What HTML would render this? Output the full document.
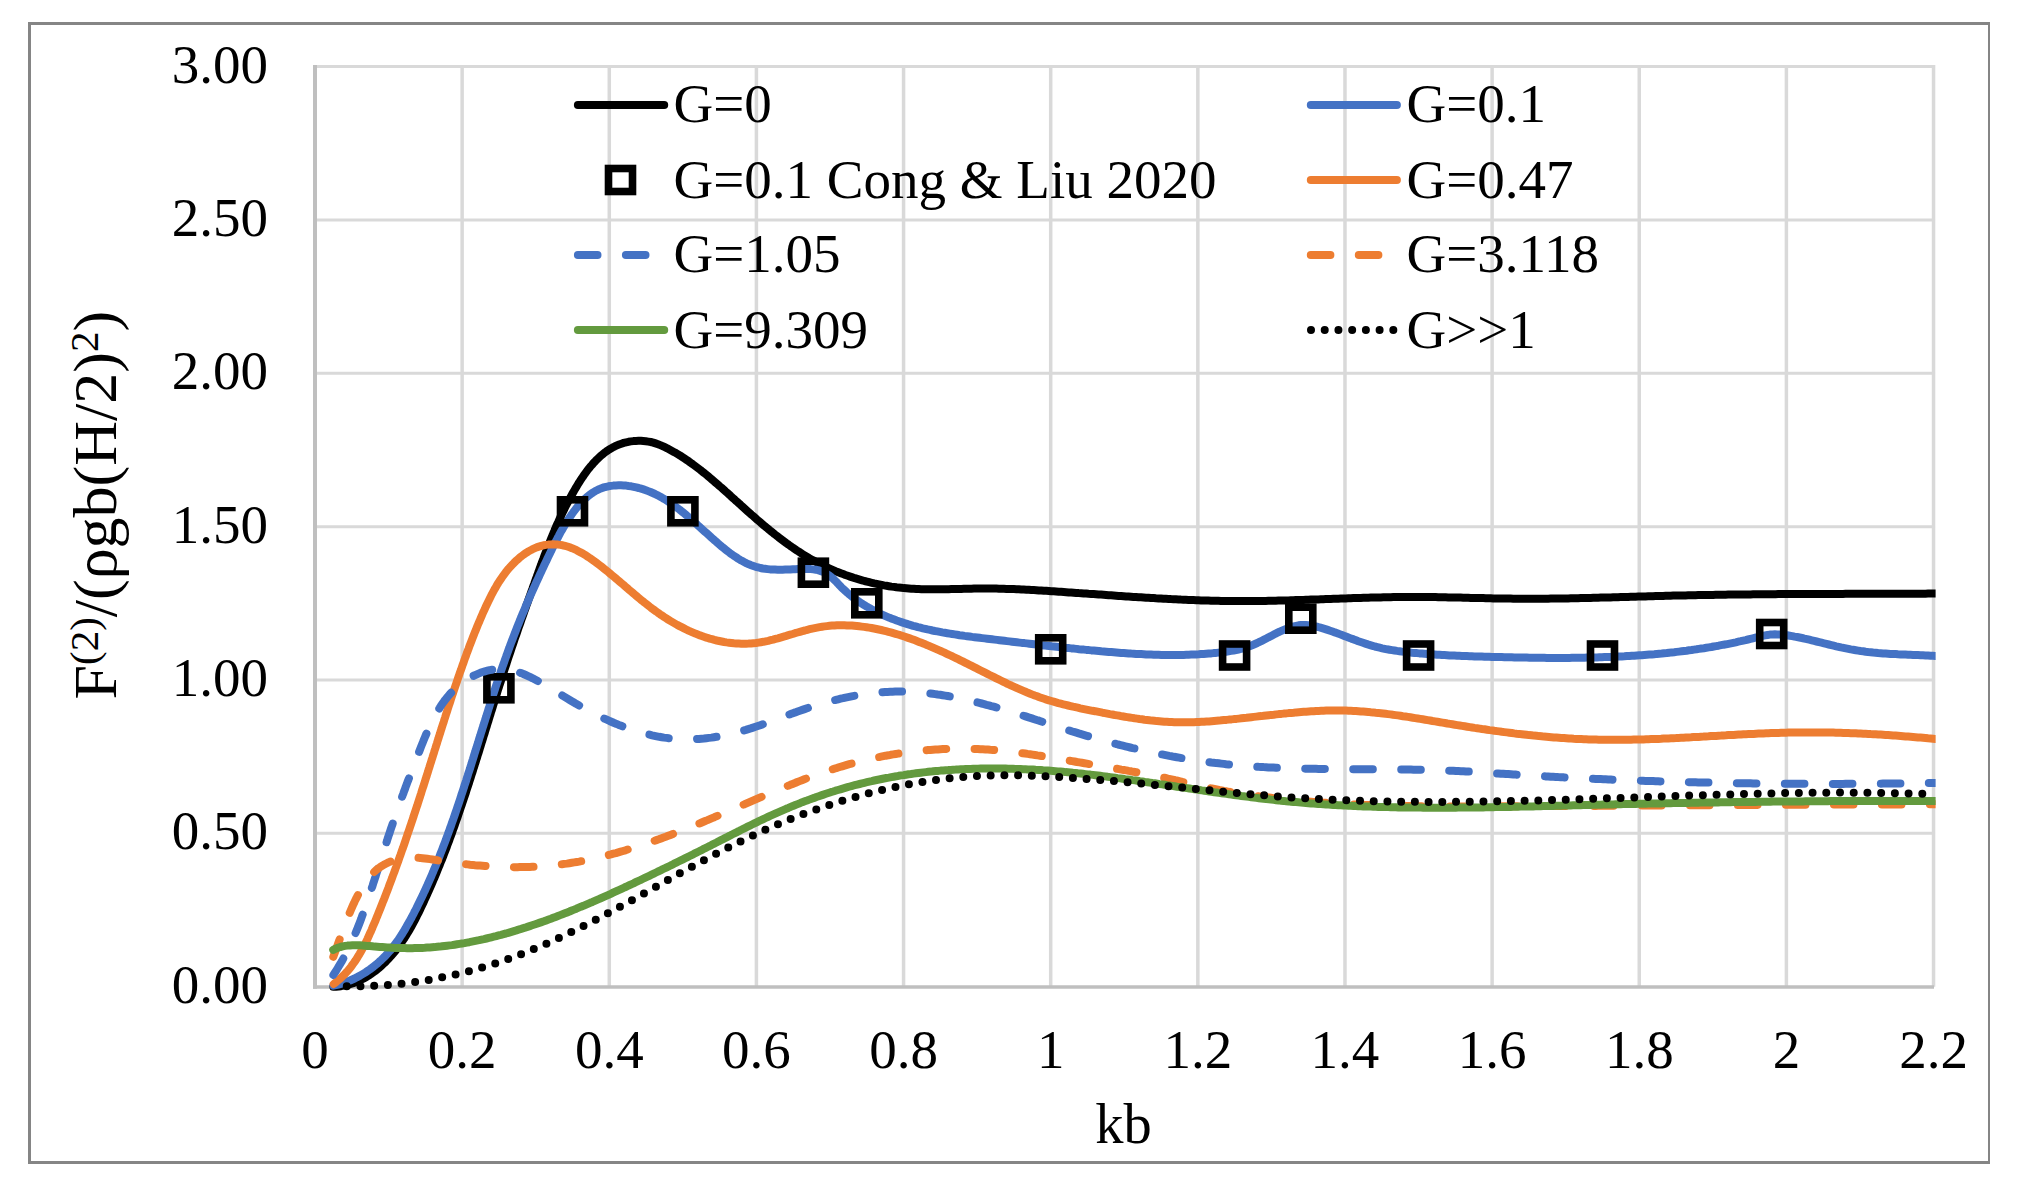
<!DOCTYPE html>
<html><head><meta charset="utf-8"><title>Chart</title>
<style>html,body{margin:0;padding:0;background:#fff;}svg{display:block;}text{font-family:"Liberation Serif",serif;fill:#000;}</style></head><body>
<svg width="2024" height="1185" viewBox="0 0 2024 1185">
<rect x="0" y="0" width="2024" height="1185" fill="#fff"/>
<g fill="#858585">
<rect x="28" y="22" width="1962" height="3"/>
<rect x="28" y="1161" width="1962" height="3"/>
<rect x="28" y="22" width="3" height="1142"/>
<rect x="1988" y="22" width="2" height="1142"/>
</g>
<g stroke="#D9D9D9" fill="none">
<line x1="315" y1="833.35" x2="1935.04" y2="833.35" stroke-width="3"/>
<line x1="315" y1="680.00" x2="1935.04" y2="680.00" stroke-width="3"/>
<line x1="315" y1="526.65" x2="1935.04" y2="526.65" stroke-width="3"/>
<line x1="315" y1="373.30" x2="1935.04" y2="373.30" stroke-width="3"/>
<line x1="315" y1="219.95" x2="1935.04" y2="219.95" stroke-width="3"/>
<line x1="315" y1="66.60" x2="1935.04" y2="66.60" stroke-width="3"/>
<line x1="462.14" y1="65.10" x2="462.14" y2="986.70" stroke-width="3.5"/>
<line x1="609.28" y1="65.10" x2="609.28" y2="986.70" stroke-width="3.5"/>
<line x1="756.42" y1="65.10" x2="756.42" y2="986.70" stroke-width="3.5"/>
<line x1="903.56" y1="65.10" x2="903.56" y2="986.70" stroke-width="3.5"/>
<line x1="1050.70" y1="65.10" x2="1050.70" y2="986.70" stroke-width="3.5"/>
<line x1="1197.84" y1="65.10" x2="1197.84" y2="986.70" stroke-width="3.5"/>
<line x1="1344.98" y1="65.10" x2="1344.98" y2="986.70" stroke-width="3.5"/>
<line x1="1492.12" y1="65.10" x2="1492.12" y2="986.70" stroke-width="3.5"/>
<line x1="1639.26" y1="65.10" x2="1639.26" y2="986.70" stroke-width="3.5"/>
<line x1="1786.40" y1="65.10" x2="1786.40" y2="986.70" stroke-width="3.5"/>
<line x1="1933.54" y1="65.10" x2="1933.54" y2="986.70" stroke-width="3.5"/>
</g>
<g stroke="#BFBFBF" fill="none">
<line x1="315" y1="65.10" x2="315" y2="988.70" stroke-width="4"/>
<line x1="313" y1="987.00" x2="1934.04" y2="987.00" stroke-width="3.5"/>
</g>
<g font-size="55" text-anchor="end">
<text x="267.9" y="1002.6">0.00</text>
<text x="267.9" y="849.2">0.50</text>
<text x="267.9" y="695.9">1.00</text>
<text x="267.9" y="542.6">1.50</text>
<text x="267.9" y="389.2">2.00</text>
<text x="267.9" y="235.9">2.50</text>
<text x="267.9" y="82.5">3.00</text>
</g>
<g font-size="55" text-anchor="middle">
<text x="315.00" y="1068.1">0</text>
<text x="462.14" y="1068.1">0.2</text>
<text x="609.28" y="1068.1">0.4</text>
<text x="756.42" y="1068.1">0.6</text>
<text x="903.56" y="1068.1">0.8</text>
<text x="1050.70" y="1068.1">1</text>
<text x="1197.84" y="1068.1">1.2</text>
<text x="1344.98" y="1068.1">1.4</text>
<text x="1492.12" y="1068.1">1.6</text>
<text x="1639.26" y="1068.1">1.8</text>
<text x="1786.40" y="1068.1">2</text>
<text x="1933.54" y="1068.1">2.2</text>
</g>
<text x="1123.5" y="1142.6" font-size="56.5" text-anchor="middle">kb</text>
<text transform="translate(115.7,699.5) rotate(-90)" font-size="62">F<tspan font-size="41" dy="-17.7">(2)</tspan><tspan dy="17.7">/(ρgb(H/2)</tspan><tspan font-size="41" dy="-17.7">2</tspan><tspan dy="17.7">)</tspan></text>
<g clip-path="url(#clip)">
<clipPath id="clip"><rect x="300" y="40" width="1635.6" height="960"/></clipPath>
<path d="M333.4 986.8L335.9 986.7L338.5 986.5L341.0 986.2L343.5 985.7L345.9 985.2L348.3 984.6L350.7 983.9L353.1 983.2L355.4 982.3L357.7 981.4L359.9 980.3L362.2 979.2L364.3 978.1L366.5 976.9L368.6 975.6L370.7 974.2L372.7 972.8L374.8 971.3L376.7 969.8L378.7 968.2L380.6 966.5L382.4 964.8L384.3 963.1L386.1 961.3L387.8 959.5L389.5 957.7L391.2 955.8L392.9 953.9L394.5 952.0L396.0 950.0L397.5 948.0L399.0 946.0L400.5 944.0L401.9 941.9L403.3 939.8L404.7 937.7L406.0 935.6L407.3 933.5L408.6 931.4L409.9 929.2L411.1 927.0L412.3 924.8L413.5 922.6L414.7 920.4L415.8 918.2L416.9 915.9L418.1 913.7L419.2 911.4L420.3 909.2L421.3 906.9L422.4 904.7L423.5 902.4L424.5 900.1L425.6 897.8L426.6 895.6L427.6 893.3L428.7 891.0L429.7 888.7L430.7 886.4L431.7 884.1L432.7 881.9L433.6 879.6L434.6 877.3L435.6 875.0L436.5 872.7L437.5 870.3L438.4 868.0L439.4 865.7L440.3 863.4L441.2 861.1L442.2 858.8L443.1 856.5L444.0 854.1L444.9 851.8L445.8 849.5L446.7 847.2L447.5 844.8L448.4 842.5L449.3 840.2L450.1 837.8L451.0 835.5L451.9 833.1L452.7 830.8L453.5 828.5L454.4 826.1L455.2 823.8L456.0 821.4L456.9 819.1L457.7 816.7L458.5 814.3L459.3 812.0L460.1 809.6L460.9 807.3L461.7 804.9L462.5 802.5L463.3 800.2L464.1 797.8L464.9 795.4L465.7 793.1L466.4 790.7L467.2 788.3L468.0 786.0L468.8 783.6L469.5 781.2L470.3 778.8L471.0 776.5L471.8 774.1L472.6 771.7L473.3 769.3L474.1 767.0L474.8 764.6L475.6 762.2L476.3 759.8L477.1 757.4L477.8 755.0L478.6 752.7L479.3 750.3L480.0 747.9L480.8 745.5L481.5 743.1L482.3 740.7L483.0 738.3L483.7 735.9L484.5 733.6L485.2 731.2L485.9 728.8L486.7 726.4L487.4 724.0L488.2 721.6L488.9 719.2L489.6 716.8L490.4 714.4L491.1 712.0L491.9 709.7L492.6 707.3L493.3 704.9L494.1 702.5L494.8 700.1L495.6 697.7L496.3 695.3L497.1 692.9L497.8 690.5L498.6 688.1L499.3 685.8L500.1 683.4L500.9 681.0L501.6 678.6L502.4 676.2L503.2 673.8L503.9 671.4L504.7 669.0L505.5 666.7L506.3 664.3L507.0 661.9L507.8 659.5L508.6 657.1L509.4 654.7L510.2 652.4L511.0 650.0L511.8 647.6L512.6 645.2L513.4 642.9L514.2 640.5L515.0 638.1L515.9 635.7L516.7 633.4L517.5 631.0L518.3 628.6L519.1 626.3L520.0 623.9L520.8 621.5L521.6 619.2L522.5 616.8L523.3 614.4L524.1 612.1L525.0 609.7L525.8 607.4L526.6 605.0L527.5 602.7L528.3 600.3L529.1 598.0L530.0 595.6L530.8 593.3L531.6 590.9L532.5 588.6L533.3 586.2L534.2 583.9L535.0 581.6L535.8 579.2L536.7 576.9L537.5 574.6L538.4 572.3L539.2 569.9L540.0 567.6L540.9 565.3L541.7 563.0L542.6 560.7L543.5 558.3L544.3 556.0L545.2 553.7L546.1 551.4L547.0 549.1L547.9 546.8L548.8 544.5L549.7 542.2L550.6 539.9L551.5 537.6L552.5 535.4L553.4 533.1L554.4 530.8L555.3 528.5L556.3 526.2L557.3 524.0L558.4 521.7L559.4 519.4L560.4 517.1L561.5 514.9L562.6 512.6L563.7 510.4L564.8 508.1L565.9 505.8L567.1 503.6L568.3 501.3L569.5 499.1L570.7 496.8L571.9 494.6L573.2 492.4L574.5 490.1L575.8 487.9L577.1 485.7L578.4 483.5L579.8 481.3L581.2 479.1L582.7 477.0L584.1 474.8L585.6 472.8L587.2 470.7L588.7 468.7L590.3 466.7L592.0 464.8L593.6 462.9L595.4 461.1L597.1 459.3L598.9 457.6L600.7 455.9L602.6 454.4L604.5 452.8L606.4 451.4L608.4 450.0L610.5 448.8L612.5 447.6L614.7 446.4L616.9 445.4L619.1 444.5L621.4 443.7L623.7 442.9L626.1 442.3L628.5 441.8L630.9 441.4L633.4 441.1L635.9 440.9L638.4 440.8L640.9 440.8L643.3 441.0L645.8 441.2L648.3 441.6L650.8 442.0L653.2 442.6L655.6 443.4L658.0 444.2L660.3 445.1L662.6 446.1L664.9 447.2L667.2 448.3L669.4 449.5L671.6 450.7L673.8 451.9L676.0 453.1L678.1 454.4L680.3 455.7L682.4 457.1L684.4 458.4L686.5 459.8L688.6 461.2L690.6 462.7L692.6 464.1L694.6 465.6L696.6 467.1L698.6 468.6L700.6 470.1L702.5 471.7L704.5 473.2L706.4 474.8L708.3 476.4L710.2 478.0L712.1 479.6L714.0 481.2L715.9 482.9L717.8 484.5L719.7 486.2L721.6 487.8L723.5 489.5L725.3 491.2L727.2 492.8L729.1 494.5L730.9 496.2L732.8 497.9L734.7 499.6L736.5 501.3L738.4 502.9L740.3 504.6L742.1 506.3L744.0 508.0L745.9 509.7L747.8 511.4L749.6 513.0L751.5 514.7L753.4 516.3L755.3 518.0L757.2 519.7L759.1 521.3L761.0 522.9L762.9 524.6L764.8 526.2L766.8 527.8L768.7 529.4L770.6 531.0L772.6 532.5L774.5 534.1L776.5 535.6L778.5 537.2L780.5 538.7L782.5 540.2L784.5 541.7L786.5 543.2L788.5 544.6L790.5 546.1L792.6 547.5L794.6 548.9L796.7 550.3L798.8 551.6L800.8 553.0L802.9 554.3L805.1 555.6L807.2 556.9L809.3 558.2L811.5 559.4L813.7 560.6L815.8 561.8L818.0 562.9L820.3 564.1L822.5 565.2L824.7 566.3L827.0 567.4L829.2 568.4L831.5 569.4L833.8 570.4L836.1 571.4L838.4 572.3L840.7 573.2L843.1 574.1L845.4 575.0L847.8 575.8L850.1 576.6L852.5 577.4L854.9 578.2L857.3 578.9L859.7 579.6L862.1 580.3L864.5 581.0L866.9 581.6L869.3 582.2L871.8 582.8L874.2 583.4L876.6 583.9L879.1 584.4L881.6 584.9L884.0 585.4L886.5 585.8L888.9 586.2L891.4 586.6L893.9 586.9L896.4 587.3L898.9 587.6L901.3 587.8L903.8 588.1L906.3 588.3L908.8 588.5L911.3 588.7L913.8 588.8L916.3 589.0L918.8 589.1L921.3 589.2L923.8 589.2L926.3 589.3L928.8 589.3L931.3 589.3L933.8 589.3L936.3 589.3L938.8 589.3L941.3 589.3L943.8 589.3L946.3 589.2L948.8 589.2L951.3 589.1L953.8 589.1L956.3 589.0L958.8 588.9L961.3 588.9L963.8 588.8L966.3 588.8L968.9 588.7L971.4 588.7L973.9 588.6L976.4 588.6L978.9 588.6L981.4 588.5L983.9 588.5L986.4 588.5L988.9 588.5L991.4 588.6L993.9 588.6L996.4 588.6L998.9 588.7L1001.4 588.7L1003.9 588.8L1006.4 588.9L1008.9 588.9L1011.4 589.0L1013.9 589.1L1016.4 589.2L1018.8 589.3L1021.3 589.5L1023.8 589.6L1026.3 589.7L1028.8 589.8L1031.3 590.0L1033.8 590.1L1036.3 590.2L1038.8 590.4L1041.3 590.5L1043.8 590.7L1046.3 590.8L1048.8 591.0L1051.3 591.2L1053.7 591.3L1056.2 591.5L1058.7 591.7L1061.2 591.8L1063.7 592.0L1066.2 592.2L1068.7 592.4L1071.2 592.5L1073.7 592.7L1076.2 592.9L1078.7 593.1L1081.2 593.2L1083.7 593.4L1086.2 593.6L1088.6 593.8L1091.1 593.9L1093.6 594.1L1096.1 594.3L1098.6 594.5L1101.1 594.6L1103.6 594.8L1106.1 595.0L1108.6 595.2L1111.1 595.3L1113.6 595.5L1116.1 595.7L1118.6 595.9L1121.1 596.0L1123.6 596.2L1126.1 596.4L1128.5 596.5L1131.0 596.7L1133.5 596.9L1136.0 597.0L1138.5 597.2L1141.0 597.3L1143.5 597.5L1146.0 597.7L1148.5 597.8L1151.0 598.0L1153.5 598.1L1156.0 598.3L1158.5 598.4L1161.0 598.5L1163.5 598.7L1166.0 598.8L1168.5 598.9L1171.0 599.1L1173.5 599.2L1176.0 599.3L1178.5 599.4L1180.9 599.6L1183.4 599.7L1185.9 599.8L1188.4 599.9L1190.9 600.0L1193.4 600.1L1195.9 600.2L1198.4 600.3L1200.9 600.4L1203.4 600.4L1205.9 600.5L1208.4 600.6L1210.9 600.7L1213.4 600.7L1215.9 600.8L1218.4 600.8L1220.9 600.9L1223.4 600.9L1225.9 601.0L1228.4 601.0L1230.9 601.0L1233.4 601.0L1235.9 601.1L1238.4 601.1L1240.9 601.1L1243.4 601.1L1245.9 601.1L1248.4 601.1L1250.9 601.1L1253.4 601.0L1255.9 601.0L1258.4 601.0L1260.8 600.9L1263.3 600.9L1265.8 600.9L1268.3 600.8L1270.8 600.8L1273.3 600.7L1275.8 600.7L1278.3 600.6L1280.8 600.6L1283.3 600.5L1285.8 600.4L1288.3 600.4L1290.8 600.3L1293.3 600.2L1295.8 600.1L1298.3 600.1L1300.8 600.0L1303.3 599.9L1305.8 599.8L1308.3 599.7L1310.8 599.6L1313.3 599.6L1315.8 599.5L1318.3 599.4L1320.8 599.3L1323.3 599.2L1325.8 599.1L1328.3 599.0L1330.8 598.9L1333.3 598.8L1335.8 598.7L1338.3 598.7L1340.8 598.6L1343.3 598.5L1345.8 598.4L1348.3 598.3L1350.8 598.2L1353.3 598.1L1355.8 598.1L1358.3 598.0L1360.8 597.9L1363.3 597.8L1365.8 597.8L1368.3 597.7L1370.8 597.6L1373.3 597.6L1375.8 597.5L1378.3 597.4L1380.8 597.4L1383.3 597.3L1385.8 597.3L1388.3 597.2L1390.8 597.2L1393.3 597.1L1395.8 597.1L1398.3 597.1L1400.8 597.0L1403.3 597.0L1405.8 597.0L1408.3 597.0L1410.8 597.0L1413.3 597.0L1415.8 597.0L1418.3 597.0L1420.8 597.0L1423.2 597.0L1425.7 597.0L1428.2 597.0L1430.7 597.1L1433.2 597.1L1435.7 597.1L1438.2 597.2L1440.7 597.2L1443.2 597.3L1445.7 597.3L1448.2 597.4L1450.7 597.4L1453.2 597.5L1455.7 597.5L1458.2 597.6L1460.7 597.6L1463.2 597.7L1465.7 597.7L1468.2 597.8L1470.7 597.9L1473.2 597.9L1475.7 598.0L1478.2 598.0L1480.7 598.1L1483.2 598.1L1485.7 598.2L1488.2 598.3L1490.7 598.3L1493.2 598.4L1495.7 598.4L1498.2 598.5L1500.7 598.5L1503.2 598.5L1505.7 598.6L1508.2 598.6L1510.7 598.6L1513.2 598.7L1515.7 598.7L1518.2 598.7L1520.7 598.7L1523.2 598.7L1525.7 598.8L1528.2 598.8L1530.7 598.8L1533.2 598.8L1535.7 598.7L1538.2 598.7L1540.7 598.7L1543.2 598.7L1545.7 598.7L1548.2 598.7L1550.7 598.6L1553.2 598.6L1555.7 598.6L1558.2 598.5L1560.7 598.5L1563.2 598.5L1565.7 598.4L1568.2 598.4L1570.7 598.3L1573.2 598.3L1575.7 598.2L1578.2 598.2L1580.7 598.1L1583.2 598.1L1585.7 598.0L1588.2 598.0L1590.7 597.9L1593.2 597.8L1595.7 597.8L1598.2 597.7L1600.7 597.6L1603.2 597.6L1605.7 597.5L1608.2 597.4L1610.7 597.4L1613.1 597.3L1615.6 597.2L1618.1 597.2L1620.6 597.1L1623.1 597.0L1625.6 596.9L1628.1 596.9L1630.6 596.8L1633.1 596.7L1635.6 596.7L1638.1 596.6L1640.6 596.5L1643.1 596.4L1645.6 596.4L1648.1 596.3L1650.6 596.2L1653.1 596.2L1655.6 596.1L1658.1 596.0L1660.6 596.0L1663.1 595.9L1665.6 595.8L1668.1 595.8L1670.6 595.7L1673.1 595.6L1675.6 595.6L1678.1 595.5L1680.6 595.5L1683.1 595.4L1685.6 595.4L1688.1 595.3L1690.6 595.3L1693.1 595.2L1695.6 595.2L1698.1 595.1L1700.6 595.1L1703.1 595.0L1705.6 595.0L1708.1 594.9L1710.6 594.9L1713.1 594.9L1715.6 594.8L1718.1 594.8L1720.6 594.7L1723.1 594.7L1725.6 594.7L1728.1 594.6L1730.6 594.6L1733.1 594.6L1735.6 594.5L1738.1 594.5L1740.6 594.5L1743.1 594.5L1745.6 594.4L1748.1 594.4L1750.6 594.4L1753.1 594.3L1755.6 594.3L1758.1 594.3L1760.6 594.3L1763.1 594.3L1765.6 594.2L1768.1 594.2L1770.6 594.2L1773.1 594.2L1775.6 594.2L1778.1 594.1L1780.6 594.1L1783.1 594.1L1785.6 594.1L1788.1 594.1L1790.6 594.1L1793.1 594.0L1795.5 594.0L1798.0 594.0L1800.5 594.0L1803.0 594.0L1805.5 594.0L1808.0 594.0L1810.5 594.0L1813.0 593.9L1815.5 593.9L1818.0 593.9L1820.5 593.9L1823.0 593.9L1825.5 593.9L1828.0 593.9L1830.5 593.9L1833.0 593.9L1835.5 593.9L1838.0 593.9L1840.5 593.9L1843.0 593.9L1845.5 593.8L1848.0 593.8L1850.5 593.8L1853.0 593.8L1855.5 593.8L1858.0 593.8L1860.5 593.8L1863.0 593.8L1865.5 593.8L1868.0 593.8L1870.5 593.8L1873.0 593.8L1875.5 593.8L1878.0 593.8L1880.5 593.8L1883.0 593.8L1885.5 593.8L1888.0 593.8L1890.5 593.7L1893.0 593.7L1895.5 593.7L1898.0 593.7L1900.5 593.7L1903.0 593.7L1905.5 593.7L1908.0 593.7L1910.5 593.7L1913.0 593.7L1915.5 593.7L1918.0 593.7L1920.5 593.7L1923.0 593.7L1925.5 593.7L1928.0 593.6L1930.5 593.6L1933.0 593.6L1935.5 593.6" stroke="#000" fill="none" stroke-width="8.00" stroke-linejoin="round" stroke-linecap="round"/>
<path d="M333.5 985.7L335.9 985.2L338.3 984.6L340.7 983.9L343.0 983.1L345.4 982.3L347.7 981.4L350.0 980.5L352.3 979.5L354.6 978.5L356.8 977.3L359.0 976.2L361.2 974.9L363.4 973.6L365.5 972.3L367.6 970.9L369.7 969.5L371.7 968.0L373.7 966.5L375.6 964.9L377.6 963.3L379.4 961.6L381.3 959.9L383.1 958.2L384.9 956.4L386.6 954.6L388.3 952.7L389.9 950.9L391.5 948.9L393.0 947.0L394.5 945.0L396.0 943.0L397.5 941.0L398.9 939.0L400.2 936.9L401.6 934.8L402.9 932.7L404.2 930.6L405.5 928.4L406.7 926.2L407.9 924.1L409.2 921.9L410.4 919.7L411.6 917.5L412.7 915.3L413.9 913.1L415.0 910.8L416.2 908.6L417.3 906.4L418.4 904.1L419.5 901.9L420.6 899.6L421.7 897.4L422.8 895.1L423.8 892.8L424.9 890.6L425.9 888.3L427.0 886.0L428.0 883.7L429.0 881.4L430.0 879.1L431.0 876.8L432.0 874.5L433.0 872.2L433.9 869.9L434.9 867.6L435.9 865.3L436.8 863.0L437.7 860.7L438.7 858.4L439.6 856.1L440.5 853.7L441.4 851.4L442.3 849.1L443.2 846.7L444.1 844.4L445.0 842.1L445.9 839.7L446.7 837.4L447.6 835.1L448.4 832.7L449.3 830.4L450.1 828.0L451.0 825.7L451.8 823.3L452.6 821.0L453.5 818.6L454.3 816.2L455.1 813.9L455.9 811.5L456.7 809.2L457.5 806.8L458.3 804.4L459.1 802.1L459.9 799.7L460.7 797.3L461.4 794.9L462.2 792.6L463.0 790.2L463.8 787.8L464.5 785.4L465.3 783.1L466.1 780.7L466.8 778.3L467.6 775.9L468.3 773.5L469.1 771.2L469.9 768.8L470.6 766.4L471.4 764.0L472.1 761.6L472.9 759.2L473.6 756.8L474.3 754.5L475.1 752.1L475.8 749.7L476.6 747.3L477.3 744.9L478.1 742.5L478.8 740.1L479.5 737.7L480.3 735.4L481.0 733.0L481.8 730.6L482.5 728.2L483.3 725.8L484.0 723.4L484.8 721.0L485.5 718.7L486.3 716.3L487.0 713.9L487.8 711.5L488.5 709.1L489.3 706.7L490.0 704.3L490.8 702.0L491.6 699.6L492.3 697.2L493.1 694.8L493.9 692.5L494.7 690.1L495.4 687.7L496.2 685.3L497.0 683.0L497.8 680.6L498.6 678.2L499.4 675.8L500.2 673.5L501.0 671.1L501.8 668.7L502.6 666.4L503.5 664.0L504.3 661.7L505.1 659.3L506.0 656.9L506.8 654.6L507.7 652.2L508.5 649.9L509.4 647.5L510.2 645.2L511.1 642.9L512.0 640.5L512.9 638.2L513.8 635.8L514.7 633.5L515.6 631.2L516.5 628.8L517.4 626.5L518.4 624.2L519.3 621.9L520.2 619.5L521.2 617.2L522.1 614.9L523.1 612.6L524.1 610.3L525.1 608.0L526.0 605.7L527.0 603.4L528.0 601.1L529.0 598.8L530.0 596.5L531.0 594.2L532.0 591.9L533.1 589.6L534.1 587.4L535.1 585.1L536.1 582.8L537.2 580.5L538.2 578.3L539.3 576.0L540.3 573.7L541.4 571.5L542.4 569.2L543.5 567.0L544.5 564.7L545.6 562.5L546.7 560.2L547.7 558.0L548.8 555.8L549.9 553.5L551.0 551.3L552.0 549.1L553.1 546.8L554.2 544.6L555.3 542.4L556.5 540.2L557.6 538.0L558.8 535.8L559.9 533.6L561.1 531.4L562.4 529.3L563.6 527.1L564.9 524.9L566.2 522.8L567.6 520.6L568.9 518.5L570.4 516.4L571.8 514.3L573.3 512.2L574.9 510.1L576.4 508.1L578.1 506.1L579.7 504.2L581.5 502.3L583.2 500.5L585.0 498.7L586.9 497.1L588.8 495.5L590.8 494.0L592.8 492.6L594.9 491.3L597.0 490.2L599.2 489.1L601.5 488.2L603.8 487.4L606.1 486.8L608.5 486.3L611.0 485.9L613.4 485.6L615.9 485.4L618.5 485.3L621.0 485.3L623.6 485.4L626.1 485.6L628.6 486.0L631.2 486.3L633.7 486.8L636.2 487.4L638.7 488.0L641.1 488.7L643.5 489.4L645.9 490.2L648.2 491.1L650.5 492.0L652.8 493.0L655.0 494.0L657.2 495.1L659.4 496.3L661.5 497.4L663.7 498.7L665.8 499.9L667.8 501.3L669.9 502.6L671.9 504.0L673.9 505.4L675.9 506.9L677.9 508.4L679.9 509.9L681.8 511.5L683.8 513.0L685.7 514.6L687.6 516.2L689.5 517.9L691.4 519.5L693.3 521.2L695.2 522.9L697.1 524.6L698.9 526.3L700.8 528.0L702.7 529.7L704.6 531.4L706.5 533.1L708.4 534.8L710.3 536.5L712.2 538.3L714.1 539.9L716.0 541.6L717.9 543.3L719.9 545.0L721.8 546.6L723.8 548.2L725.8 549.8L727.8 551.4L729.8 552.9L731.9 554.4L733.9 555.9L736.0 557.2L738.1 558.6L740.2 559.9L742.4 561.1L744.5 562.2L746.7 563.3L748.9 564.3L751.2 565.2L753.4 566.0L755.7 566.8L758.1 567.4L760.4 568.0L762.8 568.5L765.2 568.8L767.6 569.1L770.1 569.4L772.6 569.5L775.0 569.6L777.6 569.7L780.1 569.7L782.6 569.7L785.2 569.6L787.7 569.6L790.3 569.5L792.9 569.3L795.4 569.2L798.0 569.1L800.6 569.0L803.2 569.0L805.7 568.9L808.3 569.0L810.8 569.1L813.3 569.4L815.7 569.7L818.0 570.2L820.3 570.9L822.6 571.7L824.7 572.7L826.8 573.9L828.8 575.1L830.7 576.6L832.6 578.2L834.3 579.9L836.1 581.6L837.8 583.4L839.5 585.3L841.2 587.1L843.0 588.8L844.9 590.5L846.7 592.2L848.6 593.8L850.6 595.4L852.5 597.0L854.5 598.5L856.6 600.0L858.6 601.4L860.7 602.8L862.8 604.2L865.0 605.5L867.1 606.8L869.3 608.0L871.5 609.3L873.7 610.4L876.0 611.6L878.2 612.7L880.5 613.8L882.8 614.8L885.0 615.8L887.3 616.8L889.6 617.8L891.9 618.7L894.3 619.6L896.6 620.5L898.9 621.3L901.3 622.1L903.6 622.9L906.0 623.6L908.4 624.4L910.8 625.1L913.1 625.8L915.5 626.4L917.9 627.1L920.4 627.7L922.8 628.3L925.2 628.8L927.6 629.4L930.1 629.9L932.5 630.5L934.9 631.0L937.4 631.4L939.9 631.9L942.3 632.4L944.8 632.8L947.3 633.2L949.7 633.6L952.2 634.0L954.7 634.4L957.2 634.8L959.6 635.2L962.1 635.5L964.6 635.9L967.1 636.2L969.6 636.5L972.1 636.9L974.6 637.2L977.1 637.5L979.6 637.8L982.1 638.1L984.6 638.4L987.1 638.7L989.6 639.0L992.1 639.3L994.6 639.6L997.1 639.9L999.5 640.2L1002.0 640.5L1004.5 640.8L1007.0 641.1L1009.5 641.4L1012.0 641.7L1014.5 642.0L1017.0 642.3L1019.5 642.6L1021.9 642.9L1024.4 643.1L1026.9 643.4L1029.4 643.7L1031.9 644.0L1034.3 644.3L1036.8 644.6L1039.3 644.9L1041.8 645.2L1044.3 645.4L1046.7 645.7L1049.2 646.0L1051.7 646.3L1054.2 646.5L1056.7 646.8L1059.1 647.1L1061.6 647.3L1064.1 647.6L1066.6 647.9L1069.1 648.1L1071.5 648.4L1074.0 648.6L1076.5 648.9L1079.0 649.2L1081.5 649.4L1083.9 649.6L1086.4 649.9L1088.9 650.1L1091.4 650.4L1093.9 650.6L1096.3 650.8L1098.8 651.0L1101.3 651.3L1103.8 651.5L1106.3 651.7L1108.8 651.9L1111.3 652.1L1113.8 652.3L1116.2 652.5L1118.7 652.7L1121.2 652.9L1123.7 653.0L1126.2 653.2L1128.7 653.4L1131.2 653.6L1133.7 653.7L1136.2 653.9L1138.7 654.0L1141.2 654.1L1143.7 654.2L1146.2 654.4L1148.7 654.5L1151.2 654.6L1153.7 654.7L1156.2 654.7L1158.7 654.8L1161.2 654.9L1163.7 654.9L1166.2 654.9L1168.7 655.0L1171.2 655.0L1173.7 655.0L1176.2 655.0L1178.7 655.0L1181.2 654.9L1183.7 654.9L1186.2 654.8L1188.7 654.7L1191.2 654.6L1193.7 654.5L1196.2 654.4L1198.7 654.3L1201.2 654.1L1203.7 654.0L1206.2 653.8L1208.7 653.6L1211.2 653.4L1213.7 653.1L1216.2 652.9L1218.7 652.6L1221.1 652.3L1223.6 652.0L1226.1 651.7L1228.6 651.3L1231.1 650.9L1233.6 650.5L1236.0 650.0L1238.4 649.5L1240.9 648.9L1243.3 648.3L1245.7 647.6L1248.0 646.8L1250.4 645.9L1252.7 645.0L1255.0 644.0L1257.3 643.0L1259.5 641.9L1261.8 640.8L1264.0 639.7L1266.3 638.5L1268.5 637.3L1270.8 636.2L1273.0 635.0L1275.2 633.8L1277.5 632.7L1279.7 631.6L1282.0 630.6L1284.3 629.6L1286.6 628.7L1288.9 627.8L1291.3 627.0L1293.7 626.3L1296.1 625.8L1298.5 625.3L1300.9 625.1L1303.3 624.9L1305.8 625.0L1308.2 625.2L1310.7 625.5L1313.1 625.9L1315.6 626.4L1318.0 627.0L1320.5 627.7L1322.9 628.4L1325.3 629.1L1327.7 629.9L1330.1 630.7L1332.5 631.5L1334.9 632.4L1337.3 633.2L1339.6 634.1L1342.0 635.0L1344.3 635.9L1346.6 636.8L1349.0 637.7L1351.3 638.6L1353.7 639.4L1356.0 640.3L1358.3 641.2L1360.7 642.0L1363.0 642.8L1365.4 643.6L1367.8 644.4L1370.1 645.1L1372.5 645.8L1374.9 646.5L1377.3 647.1L1379.7 647.7L1382.2 648.3L1384.6 648.8L1387.1 649.3L1389.5 649.7L1392.0 650.1L1394.5 650.5L1397.0 650.9L1399.5 651.2L1402.0 651.6L1404.5 651.9L1407.0 652.1L1409.5 652.4L1412.0 652.7L1414.5 652.9L1417.0 653.1L1419.5 653.4L1422.0 653.6L1424.5 653.8L1427.0 654.0L1429.5 654.1L1432.0 654.3L1434.5 654.5L1437.0 654.7L1439.5 654.8L1442.0 655.0L1444.5 655.1L1447.0 655.2L1449.5 655.4L1452.0 655.5L1454.5 655.6L1456.9 655.7L1459.4 655.8L1461.9 655.9L1464.4 656.0L1466.9 656.1L1469.4 656.2L1471.9 656.3L1474.4 656.4L1476.9 656.4L1479.4 656.5L1481.9 656.6L1484.4 656.7L1486.9 656.7L1489.3 656.8L1491.8 656.9L1494.3 656.9L1496.8 657.0L1499.3 657.1L1501.8 657.1L1504.3 657.2L1506.8 657.2L1509.3 657.3L1511.8 657.3L1514.3 657.4L1516.8 657.4L1519.3 657.5L1521.8 657.5L1524.3 657.6L1526.8 657.6L1529.3 657.7L1531.8 657.7L1534.3 657.7L1536.8 657.8L1539.3 657.8L1541.8 657.8L1544.3 657.8L1546.8 657.9L1549.3 657.9L1551.8 657.9L1554.3 657.9L1556.8 657.9L1559.3 657.9L1561.8 657.9L1564.3 657.9L1566.9 657.9L1569.4 657.9L1571.9 657.8L1574.4 657.8L1576.9 657.8L1579.4 657.7L1581.9 657.7L1584.4 657.7L1586.9 657.6L1589.4 657.6L1591.9 657.5L1594.4 657.4L1596.9 657.4L1599.4 657.3L1601.9 657.2L1604.4 657.1L1606.9 657.1L1609.4 657.0L1611.9 656.9L1614.4 656.7L1616.9 656.6L1619.4 656.5L1621.9 656.4L1624.4 656.3L1626.9 656.1L1629.4 656.0L1631.8 655.8L1634.3 655.7L1636.8 655.5L1639.3 655.3L1641.8 655.2L1644.3 655.0L1646.8 654.8L1649.3 654.6L1651.8 654.4L1654.3 654.2L1656.8 653.9L1659.2 653.7L1661.7 653.5L1664.2 653.2L1666.7 653.0L1669.2 652.7L1671.7 652.4L1674.2 652.2L1676.6 651.9L1679.1 651.6L1681.6 651.3L1684.1 651.0L1686.6 650.7L1689.0 650.3L1691.5 650.0L1694.0 649.6L1696.5 649.3L1698.9 648.9L1701.4 648.5L1703.9 648.2L1706.3 647.8L1708.8 647.4L1711.3 647.0L1713.7 646.5L1716.2 646.1L1718.6 645.7L1721.1 645.2L1723.6 644.7L1726.0 644.3L1728.5 643.8L1730.9 643.3L1733.4 642.8L1735.8 642.3L1738.3 641.7L1740.7 641.2L1743.2 640.6L1745.6 640.1L1748.0 639.5L1750.5 638.9L1752.9 638.3L1755.3 637.7L1757.8 637.1L1760.2 636.5L1762.6 635.9L1765.1 635.4L1767.5 635.0L1769.9 634.6L1772.4 634.4L1774.9 634.3L1777.3 634.4L1779.8 634.5L1782.3 634.7L1784.7 635.0L1787.2 635.3L1789.7 635.7L1792.2 636.1L1794.6 636.6L1797.1 637.0L1799.5 637.5L1802.0 638.0L1804.4 638.6L1806.9 639.1L1809.3 639.7L1811.8 640.3L1814.2 640.9L1816.6 641.5L1819.1 642.1L1821.5 642.7L1824.0 643.3L1826.4 643.9L1828.8 644.5L1831.3 645.1L1833.7 645.7L1836.2 646.3L1838.6 646.8L1841.0 647.4L1843.5 647.9L1845.9 648.4L1848.4 648.9L1850.8 649.4L1853.3 649.8L1855.8 650.2L1858.2 650.6L1860.7 651.0L1863.2 651.3L1865.7 651.7L1868.1 652.0L1870.6 652.2L1873.1 652.5L1875.6 652.7L1878.1 653.0L1880.6 653.2L1883.1 653.4L1885.6 653.5L1888.1 653.7L1890.5 653.9L1893.0 654.0L1895.5 654.1L1898.0 654.3L1900.5 654.4L1903.0 654.5L1905.5 654.6L1908.0 654.7L1910.5 654.8L1913.0 654.9L1915.5 655.0L1918.0 655.1L1920.5 655.2L1923.0 655.3L1925.5 655.4L1928.0 655.5L1930.5 655.7L1933.0 655.8L1935.5 655.9" stroke="#4472C4" fill="none" stroke-width="8.00" stroke-linejoin="round" stroke-linecap="round"/>
<rect x="486.9" y="676.8" width="24" height="23" fill="none" stroke="#000" stroke-width="7.6"/>
<rect x="560.5" y="499.8" width="24" height="23" fill="none" stroke="#000" stroke-width="7.6"/>
<rect x="670.9" y="499.8" width="24" height="23" fill="none" stroke="#000" stroke-width="7.6"/>
<rect x="801.4" y="561.2" width="24" height="23" fill="none" stroke="#000" stroke-width="7.6"/>
<rect x="854.8" y="591.8" width="24" height="23" fill="none" stroke="#000" stroke-width="7.6"/>
<rect x="1038.7" y="637.8" width="24" height="23" fill="none" stroke="#000" stroke-width="7.6"/>
<rect x="1222.6" y="644.0" width="24" height="23" fill="none" stroke="#000" stroke-width="7.6"/>
<rect x="1288.8" y="607.2" width="24" height="23" fill="none" stroke="#000" stroke-width="7.6"/>
<rect x="1406.6" y="644.0" width="24" height="23" fill="none" stroke="#000" stroke-width="7.6"/>
<rect x="1590.5" y="644.0" width="24" height="23" fill="none" stroke="#000" stroke-width="7.6"/>
<rect x="1759.7" y="622.5" width="24" height="23" fill="none" stroke="#000" stroke-width="7.6"/>
<path d="M333.7 984.0L335.7 982.4L337.6 980.8L339.5 979.2L341.4 977.5L343.2 975.7L344.9 973.9L346.6 972.1L348.2 970.3L349.7 968.4L351.3 966.4L352.7 964.4L354.2 962.4L355.6 960.4L356.9 958.3L358.2 956.2L359.5 954.1L360.7 952.0L361.9 949.8L363.1 947.6L364.3 945.4L365.4 943.2L366.5 940.9L367.6 938.7L368.6 936.4L369.6 934.1L370.7 931.8L371.7 929.5L372.6 927.2L373.6 924.9L374.6 922.6L375.6 920.3L376.5 917.9L377.5 915.6L378.4 913.3L379.3 911.0L380.3 908.6L381.2 906.3L382.1 904.0L383.0 901.6L384.0 899.3L384.9 897.0L385.8 894.6L386.7 892.3L387.6 890.0L388.5 887.6L389.3 885.3L390.2 883.0L391.1 880.6L392.0 878.3L392.8 875.9L393.7 873.6L394.6 871.3L395.4 868.9L396.3 866.6L397.1 864.2L398.0 861.9L398.8 859.5L399.6 857.2L400.5 854.8L401.3 852.5L402.1 850.1L403.0 847.8L403.8 845.4L404.6 843.1L405.4 840.7L406.2 838.3L407.0 836.0L407.8 833.6L408.6 831.3L409.4 828.9L410.2 826.5L411.0 824.2L411.8 821.8L412.6 819.5L413.4 817.1L414.1 814.7L414.9 812.4L415.7 810.0L416.5 807.6L417.3 805.3L418.0 802.9L418.8 800.5L419.6 798.1L420.3 795.8L421.1 793.4L421.8 791.0L422.6 788.6L423.4 786.3L424.1 783.9L424.9 781.5L425.6 779.1L426.4 776.8L427.1 774.4L427.9 772.0L428.6 769.6L429.4 767.2L430.1 764.8L430.9 762.5L431.6 760.1L432.4 757.7L433.1 755.3L433.9 752.9L434.6 750.5L435.4 748.2L436.1 745.8L436.9 743.4L437.6 741.0L438.4 738.6L439.1 736.2L439.9 733.8L440.6 731.5L441.4 729.1L442.1 726.7L442.9 724.3L443.7 721.9L444.4 719.5L445.2 717.2L445.9 714.8L446.7 712.4L447.5 710.0L448.2 707.6L449.0 705.3L449.8 702.9L450.6 700.5L451.3 698.1L452.1 695.8L452.9 693.4L453.7 691.0L454.5 688.7L455.3 686.3L456.1 683.9L456.9 681.6L457.7 679.2L458.5 676.8L459.3 674.5L460.1 672.1L461.0 669.8L461.8 667.4L462.6 665.0L463.5 662.7L464.3 660.3L465.1 658.0L466.0 655.7L466.8 653.3L467.7 651.0L468.6 648.6L469.4 646.3L470.3 644.0L471.2 641.7L472.1 639.3L473.0 637.0L473.9 634.7L474.8 632.4L475.8 630.1L476.7 627.8L477.6 625.5L478.6 623.2L479.6 620.9L480.5 618.6L481.5 616.3L482.5 614.0L483.5 611.7L484.6 609.5L485.6 607.2L486.6 605.0L487.7 602.7L488.8 600.5L489.9 598.2L491.0 596.0L492.1 593.8L493.3 591.6L494.5 589.4L495.8 587.2L497.0 585.1L498.3 582.9L499.7 580.8L501.1 578.7L502.5 576.6L504.0 574.6L505.5 572.6L507.1 570.6L508.7 568.6L510.4 566.7L512.2 564.8L514.0 562.9L515.8 561.1L517.7 559.4L519.6 557.7L521.6 556.1L523.6 554.6L525.7 553.2L527.8 551.8L529.9 550.6L532.1 549.4L534.3 548.4L536.6 547.4L538.9 546.6L541.2 545.9L543.5 545.3L545.9 544.9L548.3 544.6L550.7 544.4L553.1 544.3L555.5 544.4L557.9 544.6L560.3 544.9L562.7 545.3L565.1 545.9L567.4 546.5L569.7 547.3L572.0 548.2L574.3 549.2L576.6 550.2L578.8 551.4L581.1 552.6L583.3 553.8L585.5 555.2L587.6 556.6L589.8 558.0L591.9 559.5L594.0 561.0L596.1 562.5L598.2 564.1L600.2 565.6L602.2 567.2L604.2 568.8L606.2 570.4L608.2 572.0L610.1 573.6L612.0 575.2L613.9 576.8L615.8 578.4L617.7 580.0L619.6 581.6L621.5 583.2L623.4 584.8L625.3 586.5L627.2 588.1L629.0 589.7L630.9 591.3L632.8 592.9L634.7 594.5L636.6 596.1L638.5 597.7L640.4 599.3L642.3 600.8L644.2 602.4L646.2 603.9L648.1 605.4L650.1 607.0L652.0 608.5L654.0 609.9L656.1 611.4L658.1 612.9L660.1 614.3L662.2 615.7L664.3 617.1L666.4 618.4L668.5 619.8L670.7 621.1L672.9 622.4L675.0 623.6L677.2 624.9L679.5 626.1L681.7 627.2L684.0 628.4L686.2 629.5L688.5 630.6L690.8 631.6L693.1 632.6L695.4 633.6L697.8 634.5L700.1 635.4L702.5 636.2L704.8 637.1L707.2 637.8L709.6 638.6L712.0 639.2L714.4 639.9L716.8 640.5L719.2 641.0L721.7 641.5L724.1 642.0L726.5 642.4L729.0 642.7L731.4 643.0L733.9 643.3L736.3 643.5L738.8 643.6L741.2 643.7L743.7 643.7L746.1 643.7L748.6 643.6L751.0 643.4L753.5 643.2L756.0 643.0L758.4 642.6L760.9 642.2L763.3 641.8L765.7 641.3L768.2 640.8L770.6 640.2L773.1 639.6L775.5 638.9L777.9 638.3L780.4 637.6L782.8 636.9L785.3 636.2L787.7 635.4L790.1 634.7L792.6 634.0L795.0 633.2L797.5 632.5L799.9 631.8L802.4 631.1L804.8 630.5L807.3 629.8L809.7 629.2L812.2 628.6L814.7 628.1L817.1 627.6L819.6 627.1L822.1 626.7L824.5 626.4L827.0 626.1L829.5 625.8L832.0 625.6L834.5 625.5L837.0 625.3L839.4 625.3L841.9 625.3L844.4 625.3L846.9 625.4L849.4 625.5L851.9 625.6L854.3 625.8L856.8 626.0L859.3 626.3L861.7 626.6L864.2 626.9L866.6 627.2L869.1 627.6L871.5 628.0L874.0 628.5L876.4 629.0L878.8 629.5L881.2 630.0L883.6 630.6L886.0 631.2L888.4 631.8L890.8 632.4L893.2 633.1L895.6 633.8L898.0 634.5L900.3 635.2L902.7 636.0L905.1 636.8L907.4 637.6L909.8 638.4L912.1 639.2L914.5 640.1L916.8 641.0L919.1 641.9L921.5 642.8L923.8 643.7L926.1 644.7L928.4 645.6L930.7 646.6L933.0 647.6L935.3 648.6L937.6 649.6L939.9 650.6L942.2 651.7L944.5 652.7L946.8 653.8L949.1 654.9L951.4 655.9L953.6 657.0L955.9 658.1L958.2 659.2L960.4 660.3L962.7 661.4L965.0 662.6L967.2 663.7L969.5 664.8L971.7 665.9L974.0 667.1L976.2 668.2L978.4 669.3L980.7 670.5L982.9 671.6L985.1 672.7L987.4 673.9L989.6 675.0L991.9 676.1L994.1 677.2L996.3 678.3L998.6 679.4L1000.8 680.5L1003.0 681.6L1005.3 682.7L1007.5 683.8L1009.8 684.8L1012.0 685.9L1014.3 686.9L1016.5 687.9L1018.8 688.9L1021.1 689.9L1023.4 690.9L1025.6 691.8L1027.9 692.8L1030.2 693.7L1032.5 694.6L1034.8 695.5L1037.2 696.3L1039.5 697.2L1041.8 698.0L1044.2 698.8L1046.5 699.6L1048.9 700.3L1051.3 701.0L1053.6 701.7L1056.0 702.4L1058.4 703.1L1060.8 703.7L1063.2 704.3L1065.7 704.9L1068.1 705.5L1070.5 706.1L1073.0 706.7L1075.4 707.2L1077.8 707.7L1080.3 708.3L1082.7 708.8L1085.2 709.3L1087.7 709.8L1090.1 710.3L1092.6 710.8L1095.1 711.2L1097.5 711.7L1100.0 712.2L1102.5 712.7L1104.9 713.1L1107.4 713.6L1109.9 714.1L1112.3 714.5L1114.8 715.0L1117.3 715.4L1119.8 715.8L1122.2 716.3L1124.7 716.7L1127.2 717.1L1129.6 717.5L1132.1 717.9L1134.6 718.3L1137.1 718.6L1139.5 719.0L1142.0 719.3L1144.5 719.7L1147.0 720.0L1149.4 720.3L1151.9 720.6L1154.4 720.8L1156.9 721.1L1159.4 721.3L1161.8 721.5L1164.3 721.7L1166.8 721.8L1169.3 722.0L1171.8 722.1L1174.2 722.2L1176.7 722.3L1179.2 722.3L1181.7 722.3L1184.2 722.3L1186.6 722.3L1189.1 722.3L1191.6 722.2L1194.1 722.2L1196.6 722.1L1199.1 722.0L1201.6 721.8L1204.0 721.7L1206.5 721.5L1209.0 721.4L1211.5 721.2L1214.0 721.0L1216.5 720.8L1219.0 720.6L1221.5 720.3L1223.9 720.1L1226.4 719.9L1228.9 719.6L1231.4 719.4L1233.9 719.1L1236.4 718.9L1238.9 718.6L1241.4 718.3L1243.9 718.0L1246.4 717.8L1248.9 717.5L1251.3 717.2L1253.8 716.9L1256.3 716.6L1258.8 716.3L1261.3 716.1L1263.8 715.8L1266.3 715.5L1268.8 715.2L1271.3 714.9L1273.8 714.7L1276.3 714.4L1278.8 714.1L1281.3 713.9L1283.8 713.6L1286.2 713.4L1288.7 713.1L1291.2 712.9L1293.7 712.7L1296.2 712.4L1298.7 712.2L1301.2 712.0L1303.7 711.8L1306.2 711.7L1308.7 711.5L1311.2 711.3L1313.7 711.2L1316.1 711.0L1318.6 710.9L1321.1 710.8L1323.6 710.7L1326.1 710.6L1328.6 710.6L1331.1 710.5L1333.6 710.5L1336.0 710.5L1338.5 710.5L1341.0 710.5L1343.5 710.6L1346.0 710.6L1348.5 710.7L1350.9 710.8L1353.4 710.9L1355.9 711.0L1358.4 711.2L1360.9 711.4L1363.3 711.5L1365.8 711.7L1368.3 711.9L1370.8 712.2L1373.2 712.4L1375.7 712.7L1378.2 712.9L1380.7 713.2L1383.1 713.5L1385.6 713.8L1388.1 714.1L1390.6 714.4L1393.0 714.8L1395.5 715.1L1398.0 715.4L1400.5 715.8L1402.9 716.2L1405.4 716.5L1407.9 716.9L1410.3 717.3L1412.8 717.7L1415.3 718.1L1417.8 718.5L1420.2 718.9L1422.7 719.3L1425.2 719.7L1427.6 720.1L1430.1 720.5L1432.6 721.0L1435.1 721.4L1437.5 721.8L1440.0 722.2L1442.5 722.6L1444.9 723.0L1447.4 723.5L1449.9 723.9L1452.4 724.3L1454.8 724.7L1457.3 725.1L1459.8 725.5L1462.2 725.9L1464.7 726.3L1467.2 726.7L1469.7 727.1L1472.1 727.5L1474.6 727.9L1477.1 728.2L1479.6 728.6L1482.0 729.0L1484.5 729.3L1487.0 729.7L1489.5 730.1L1491.9 730.4L1494.4 730.8L1496.9 731.1L1499.4 731.4L1501.8 731.8L1504.3 732.1L1506.8 732.4L1509.3 732.7L1511.8 733.0L1514.2 733.4L1516.7 733.7L1519.2 733.9L1521.7 734.2L1524.1 734.5L1526.6 734.8L1529.1 735.1L1531.6 735.3L1534.1 735.6L1536.6 735.8L1539.0 736.1L1541.5 736.3L1544.0 736.6L1546.5 736.8L1549.0 737.0L1551.4 737.2L1553.9 737.4L1556.4 737.6L1558.9 737.8L1561.4 738.0L1563.9 738.1L1566.3 738.3L1568.8 738.5L1571.3 738.6L1573.8 738.8L1576.3 738.9L1578.8 739.0L1581.3 739.1L1583.8 739.2L1586.2 739.3L1588.7 739.4L1591.2 739.5L1593.7 739.6L1596.2 739.6L1598.7 739.7L1601.2 739.7L1603.7 739.8L1606.2 739.8L1608.7 739.8L1611.1 739.8L1613.6 739.8L1616.1 739.8L1618.6 739.8L1621.1 739.8L1623.6 739.8L1626.1 739.8L1628.6 739.7L1631.1 739.7L1633.6 739.6L1636.1 739.6L1638.6 739.5L1641.1 739.5L1643.6 739.4L1646.1 739.3L1648.6 739.2L1651.1 739.1L1653.6 739.0L1656.0 739.0L1658.5 738.9L1661.0 738.8L1663.5 738.6L1666.0 738.5L1668.5 738.4L1671.0 738.3L1673.5 738.2L1676.0 738.1L1678.5 737.9L1681.0 737.8L1683.5 737.7L1686.0 737.5L1688.5 737.4L1691.0 737.3L1693.5 737.1L1696.0 737.0L1698.5 736.9L1701.0 736.7L1703.5 736.6L1706.0 736.4L1708.5 736.3L1711.0 736.1L1713.5 736.0L1716.0 735.9L1718.5 735.7L1721.0 735.6L1723.5 735.4L1726.0 735.3L1728.5 735.1L1731.0 735.0L1733.5 734.9L1736.0 734.7L1738.5 734.6L1741.0 734.5L1743.5 734.3L1746.0 734.2L1748.5 734.1L1751.0 734.0L1753.5 733.9L1756.0 733.7L1758.5 733.6L1761.0 733.5L1763.5 733.4L1766.0 733.3L1768.5 733.2L1771.0 733.1L1773.5 733.0L1776.0 732.9L1778.5 732.9L1781.0 732.8L1783.5 732.7L1786.0 732.7L1788.4 732.6L1790.9 732.5L1793.4 732.5L1795.9 732.5L1798.4 732.4L1800.9 732.4L1803.4 732.4L1805.9 732.4L1808.4 732.4L1810.9 732.4L1813.4 732.4L1815.9 732.4L1818.4 732.4L1820.9 732.4L1823.4 732.4L1825.9 732.5L1828.3 732.5L1830.8 732.6L1833.3 732.6L1835.8 732.7L1838.3 732.7L1840.8 732.8L1843.3 732.9L1845.8 733.0L1848.3 733.1L1850.8 733.2L1853.3 733.2L1855.8 733.3L1858.2 733.5L1860.7 733.6L1863.2 733.7L1865.7 733.8L1868.2 733.9L1870.7 734.1L1873.2 734.2L1875.7 734.3L1878.2 734.5L1880.7 734.6L1883.2 734.8L1885.6 735.0L1888.1 735.1L1890.6 735.3L1893.1 735.5L1895.6 735.6L1898.1 735.8L1900.6 736.0L1903.1 736.2L1905.6 736.4L1908.1 736.6L1910.6 736.8L1913.1 737.0L1915.6 737.2L1918.0 737.4L1920.5 737.6L1923.0 737.8L1925.5 738.0L1928.0 738.3L1930.5 738.5L1933.0 738.7L1935.5 738.9" stroke="#ED7D31" fill="none" stroke-width="8.00" stroke-linejoin="round" stroke-linecap="round"/>
<path d="M333.4 974.9L334.8 972.8L336.2 970.6L337.5 968.5L338.8 966.3L340.1 964.2L341.4 962.0L342.6 959.8L343.8 957.6L345.0 955.4L346.1 953.2L347.3 951.0L348.4 948.7L349.5 946.5L350.5 944.3L351.6 942.0L352.6 939.7L353.6 937.5L354.6 935.2L355.6 932.9L356.5 930.6L357.5 928.3L358.4 926.0L359.3 923.7L360.2 921.3L361.1 919.0L361.9 916.7L362.8 914.3L363.6 912.0L364.5 909.6L365.3 907.3L366.1 904.9L366.9 902.6L367.7 900.2L368.5 897.8L369.3 895.5L370.1 893.1L370.9 890.7L371.7 888.3L372.5 885.9L373.2 883.6L374.0 881.2L374.8 878.8L375.6 876.4L376.3 874.0L377.1 871.6L377.9 869.2L378.6 866.8L379.4 864.4L380.2 862.0L380.9 859.6L381.7 857.2L382.4 854.8L383.2 852.4L384.0 850.1L384.7 847.7L385.5 845.3L386.3 842.9L387.1 840.5L387.8 838.1L388.6 835.8L389.4 833.4L390.2 831.0L391.0 828.6L391.8 826.3L392.6 823.9L393.4 821.6L394.2 819.2L395.0 816.9L395.8 814.5L396.6 812.2L397.4 809.9L398.2 807.5L399.1 805.2L399.9 802.9L400.7 800.6L401.6 798.2L402.4 795.9L403.3 793.6L404.1 791.3L405.0 789.0L405.8 786.6L406.7 784.3L407.5 782.0L408.4 779.7L409.3 777.4L410.2 775.0L411.1 772.7L411.9 770.4L412.8 768.0L413.7 765.7L414.6 763.4L415.5 761.0L416.4 758.7L417.3 756.3L418.2 754.0L419.2 751.6L420.1 749.3L421.0 746.9L421.9 744.6L422.9 742.2L423.8 739.8L424.8 737.5L425.8 735.1L426.8 732.8L427.8 730.4L428.8 728.1L429.9 725.8L431.0 723.5L432.1 721.2L433.2 719.0L434.4 716.8L435.6 714.6L436.9 712.4L438.1 710.2L439.5 708.1L440.8 706.0L442.2 703.9L443.7 701.9L445.1 699.9L446.7 697.9L448.3 696.0L449.9 694.1L451.6 692.3L453.3 690.5L455.1 688.8L457.0 687.1L458.9 685.5L460.9 683.9L462.9 682.4L464.9 680.9L467.0 679.6L469.1 678.2L471.3 677.0L473.5 675.8L475.7 674.8L478.0 673.8L480.3 672.8L482.6 672.0L484.9 671.3L487.3 670.7L489.7 670.1L492.1 669.7L494.5 669.4L496.9 669.1L499.3 669.0L501.7 669.0L504.1 669.2L506.5 669.4L509.0 669.8L511.4 670.3L513.8 670.8L516.2 671.5L518.6 672.3L521.0 673.1L523.4 674.0L525.7 675.0L528.1 676.1L530.4 677.2L532.7 678.3L535.0 679.5L537.3 680.7L539.6 681.9L541.8 683.2L544.0 684.4L546.2 685.7L548.3 687.0L550.5 688.3L552.6 689.6L554.8 690.9L556.9 692.2L559.0 693.5L561.1 694.8L563.3 696.1L565.4 697.4L567.5 698.7L569.7 700.0L571.8 701.2L574.0 702.5L576.1 703.8L578.3 705.0L580.5 706.2L582.7 707.5L584.9 708.7L587.1 709.9L589.3 711.1L591.5 712.2L593.8 713.4L596.0 714.5L598.2 715.6L600.5 716.7L602.8 717.8L605.0 718.9L607.3 719.9L609.6 721.0L611.9 722.0L614.2 723.0L616.5 723.9L618.8 724.9L621.2 725.8L623.5 726.7L625.8 727.6L628.2 728.4L630.5 729.2L632.9 730.0L635.3 730.8L637.6 731.5L640.0 732.2L642.4 732.9L644.8 733.5L647.2 734.2L649.6 734.7L652.0 735.3L654.4 735.8L656.8 736.3L659.3 736.8L661.7 737.2L664.1 737.6L666.6 737.9L669.0 738.2L671.5 738.5L674.0 738.7L676.4 738.9L678.9 739.1L681.4 739.2L683.9 739.3L686.4 739.3L688.9 739.3L691.4 739.3L693.9 739.2L696.4 739.1L698.9 738.9L701.4 738.7L703.9 738.5L706.4 738.2L708.9 737.9L711.4 737.6L713.9 737.2L716.4 736.8L718.9 736.4L721.4 735.9L723.9 735.4L726.4 734.9L728.9 734.4L731.3 733.8L733.8 733.2L736.2 732.6L738.7 731.9L741.1 731.3L743.5 730.6L745.9 729.9L748.3 729.1L750.7 728.4L753.1 727.6L755.5 726.8L757.9 726.0L760.2 725.2L762.6 724.4L764.9 723.6L767.2 722.7L769.6 721.9L771.9 721.0L774.2 720.1L776.6 719.3L778.9 718.4L781.2 717.5L783.6 716.7L785.9 715.8L788.2 714.9L790.5 714.1L792.9 713.2L795.2 712.4L797.6 711.5L799.9 710.7L802.3 709.9L804.6 709.1L807.0 708.3L809.3 707.5L811.7 706.7L814.1 706.0L816.5 705.2L818.9 704.5L821.3 703.8L823.7 703.1L826.1 702.4L828.5 701.8L830.9 701.1L833.3 700.5L835.8 699.9L838.2 699.3L840.6 698.7L843.1 698.2L845.5 697.6L848.0 697.1L850.4 696.6L852.9 696.1L855.3 695.7L857.8 695.2L860.3 694.8L862.7 694.4L865.2 694.1L867.7 693.7L870.2 693.4L872.6 693.1L875.1 692.8L877.6 692.6L880.1 692.4L882.6 692.2L885.1 692.0L887.6 691.9L890.1 691.8L892.6 691.7L895.1 691.6L897.6 691.6L900.1 691.6L902.6 691.6L905.1 691.7L907.7 691.8L910.2 691.9L912.7 692.0L915.2 692.1L917.7 692.3L920.2 692.5L922.7 692.7L925.2 693.0L927.7 693.2L930.2 693.5L932.7 693.8L935.2 694.1L937.7 694.5L940.2 694.8L942.6 695.2L945.1 695.6L947.6 696.0L950.0 696.5L952.5 696.9L955.0 697.4L957.4 697.9L959.9 698.4L962.3 698.9L964.7 699.4L967.2 700.0L969.6 700.5L972.0 701.1L974.5 701.7L976.9 702.3L979.3 702.9L981.7 703.5L984.1 704.1L986.5 704.8L988.9 705.4L991.3 706.1L993.7 706.7L996.1 707.4L998.5 708.1L1000.9 708.8L1003.3 709.5L1005.7 710.2L1008.1 711.0L1010.5 711.7L1012.9 712.4L1015.3 713.1L1017.6 713.9L1020.0 714.6L1022.4 715.4L1024.8 716.1L1027.2 716.9L1029.5 717.7L1031.9 718.4L1034.3 719.2L1036.7 720.0L1039.1 720.7L1041.4 721.5L1043.8 722.3L1046.2 723.1L1048.6 723.8L1050.9 724.6L1053.3 725.4L1055.7 726.1L1058.1 726.9L1060.5 727.7L1062.8 728.4L1065.2 729.2L1067.6 730.0L1070.0 730.7L1072.4 731.5L1074.8 732.2L1077.2 732.9L1079.6 733.7L1082.0 734.4L1084.4 735.1L1086.8 735.8L1089.2 736.5L1091.6 737.2L1094.0 737.9L1096.4 738.6L1098.8 739.3L1101.2 739.9L1103.6 740.6L1106.0 741.3L1108.4 741.9L1110.8 742.6L1113.3 743.2L1115.7 743.8L1118.1 744.5L1120.5 745.1L1122.9 745.7L1125.4 746.3L1127.8 746.9L1130.2 747.5L1132.7 748.1L1135.1 748.6L1137.5 749.2L1140.0 749.8L1142.4 750.3L1144.8 750.9L1147.3 751.4L1149.7 751.9L1152.2 752.4L1154.6 753.0L1157.1 753.5L1159.5 754.0L1162.0 754.4L1164.4 754.9L1166.9 755.4L1169.3 755.9L1171.8 756.3L1174.2 756.8L1176.7 757.2L1179.2 757.6L1181.6 758.1L1184.1 758.5L1186.5 758.9L1189.0 759.3L1191.5 759.7L1193.9 760.0L1196.4 760.4L1198.9 760.8L1201.4 761.1L1203.8 761.5L1206.3 761.8L1208.8 762.1L1211.3 762.5L1213.7 762.8L1216.2 763.1L1218.7 763.3L1221.2 763.6L1223.7 763.9L1226.1 764.2L1228.6 764.4L1231.1 764.7L1233.6 764.9L1236.1 765.1L1238.6 765.3L1241.0 765.5L1243.5 765.7L1246.0 765.9L1248.5 766.1L1251.0 766.3L1253.5 766.5L1256.0 766.6L1258.5 766.8L1261.0 766.9L1263.5 767.1L1266.0 767.2L1268.5 767.4L1271.0 767.5L1273.5 767.6L1276.0 767.7L1278.5 767.8L1281.0 767.9L1283.5 768.0L1286.0 768.1L1288.5 768.2L1291.0 768.3L1293.5 768.3L1296.0 768.4L1298.5 768.5L1301.0 768.5L1303.5 768.6L1306.0 768.7L1308.5 768.7L1311.0 768.8L1313.5 768.8L1316.0 768.8L1318.5 768.9L1321.0 768.9L1323.5 768.9L1326.0 769.0L1328.5 769.0L1331.0 769.0L1333.5 769.1L1336.0 769.1L1338.5 769.1L1341.0 769.1L1343.5 769.1L1346.0 769.1L1348.5 769.2L1351.0 769.2L1353.5 769.2L1356.0 769.2L1358.5 769.2L1361.0 769.2L1363.5 769.2L1366.0 769.2L1368.5 769.3L1371.0 769.3L1373.5 769.3L1376.0 769.3L1378.5 769.3L1381.0 769.3L1383.5 769.3L1386.0 769.4L1388.5 769.4L1391.0 769.4L1393.5 769.4L1396.0 769.4L1398.5 769.5L1401.0 769.5L1403.5 769.5L1406.0 769.6L1408.5 769.6L1411.0 769.6L1413.5 769.7L1416.0 769.7L1418.5 769.8L1421.0 769.8L1423.5 769.9L1426.0 769.9L1428.5 770.0L1431.0 770.1L1433.5 770.1L1436.0 770.2L1438.4 770.3L1440.9 770.4L1443.4 770.4L1445.9 770.5L1448.4 770.6L1450.9 770.7L1453.4 770.8L1455.9 771.0L1458.4 771.1L1460.9 771.2L1463.4 771.3L1465.9 771.5L1468.4 771.6L1470.9 771.7L1473.4 771.9L1475.9 772.0L1478.4 772.2L1480.9 772.3L1483.4 772.5L1485.8 772.7L1488.3 772.8L1490.8 773.0L1493.3 773.2L1495.8 773.3L1498.3 773.5L1500.8 773.7L1503.3 773.8L1505.8 774.0L1508.3 774.1L1510.8 774.3L1513.3 774.5L1515.8 774.6L1518.3 774.8L1520.8 774.9L1523.3 775.1L1525.8 775.2L1528.3 775.4L1530.8 775.5L1533.3 775.7L1535.8 775.8L1538.3 776.0L1540.8 776.1L1543.3 776.3L1545.7 776.4L1548.2 776.5L1550.7 776.7L1553.2 776.8L1555.7 776.9L1558.2 777.1L1560.7 777.2L1563.2 777.3L1565.7 777.5L1568.2 777.6L1570.7 777.7L1573.2 777.8L1575.7 778.0L1578.2 778.1L1580.7 778.2L1583.2 778.3L1585.7 778.4L1588.2 778.6L1590.7 778.7L1593.2 778.8L1595.7 778.9L1598.2 779.0L1600.7 779.1L1603.2 779.2L1605.7 779.3L1608.2 779.4L1610.7 779.5L1613.2 779.7L1615.7 779.8L1618.1 779.9L1620.6 780.0L1623.1 780.0L1625.6 780.1L1628.1 780.2L1630.6 780.3L1633.1 780.4L1635.6 780.5L1638.1 780.6L1640.6 780.7L1643.1 780.8L1645.6 780.9L1648.1 781.0L1650.6 781.0L1653.1 781.1L1655.6 781.2L1658.1 781.3L1660.6 781.4L1663.1 781.4L1665.6 781.5L1668.1 781.6L1670.6 781.7L1673.1 781.7L1675.6 781.8L1678.1 781.9L1680.6 781.9L1683.1 782.0L1685.6 782.1L1688.1 782.1L1690.6 782.2L1693.1 782.3L1695.6 782.3L1698.1 782.4L1700.6 782.4L1703.1 782.5L1705.6 782.5L1708.1 782.6L1710.6 782.6L1713.1 782.7L1715.6 782.8L1718.1 782.8L1720.6 782.9L1723.1 782.9L1725.6 782.9L1728.1 783.0L1730.5 783.0L1733.0 783.1L1735.5 783.1L1738.0 783.2L1740.5 783.2L1743.0 783.2L1745.5 783.3L1748.0 783.3L1750.5 783.3L1753.0 783.4L1755.5 783.4L1758.0 783.4L1760.5 783.5L1763.0 783.5L1765.5 783.5L1768.0 783.6L1770.5 783.6L1773.0 783.6L1775.5 783.6L1778.0 783.6L1780.5 783.7L1783.0 783.7L1785.5 783.7L1788.0 783.7L1790.5 783.7L1793.0 783.8L1795.5 783.8L1798.0 783.8L1800.5 783.8L1803.0 783.8L1805.5 783.8L1808.0 783.8L1810.5 783.8L1813.0 783.8L1815.5 783.9L1818.0 783.9L1820.5 783.9L1823.0 783.9L1825.5 783.9L1828.0 783.9L1830.5 783.9L1833.0 783.9L1835.5 783.9L1838.0 783.9L1840.5 783.9L1843.0 783.9L1845.5 783.8L1848.0 783.8L1850.5 783.8L1853.0 783.8L1855.5 783.8L1858.0 783.8L1860.5 783.8L1863.0 783.8L1865.5 783.8L1868.0 783.7L1870.5 783.7L1873.0 783.7L1875.5 783.7L1878.0 783.7L1880.5 783.7L1883.0 783.6L1885.5 783.6L1888.0 783.6L1890.5 783.6L1893.0 783.5L1895.5 783.5L1898.0 783.5L1900.5 783.5L1903.0 783.4L1905.5 783.4L1908.0 783.4L1910.5 783.3L1913.0 783.3L1915.5 783.3L1918.0 783.2L1920.5 783.2L1923.0 783.2L1925.5 783.1L1928.0 783.1L1930.5 783.1L1933.0 783.0L1935.5 783.0" stroke="#4472C4" fill="none" stroke-width="8.00" stroke-linejoin="round" stroke-linecap="round" stroke-dasharray="19.6 28.4" stroke-dashoffset="0.5"/>
<path d="M333.3 956.8L334.1 954.6L335.0 952.3L335.8 950.0L336.7 947.7L337.5 945.4L338.3 943.0L339.2 940.7L340.0 938.4L340.9 936.0L341.7 933.7L342.6 931.3L343.4 929.0L344.3 926.6L345.2 924.3L346.1 921.9L347.0 919.6L347.9 917.2L348.8 914.9L349.8 912.6L350.8 910.2L351.8 907.9L352.8 905.6L353.9 903.3L354.9 901.0L356.1 898.7L357.2 896.4L358.4 894.2L359.6 891.9L360.8 889.7L362.1 887.5L363.4 885.3L364.8 883.2L366.2 881.1L367.7 879.1L369.3 877.1L370.9 875.3L372.6 873.5L374.3 871.8L376.1 870.1L378.0 868.6L380.0 867.2L382.0 865.9L384.1 864.6L386.3 863.5L388.5 862.4L390.7 861.5L393.0 860.7L395.3 859.9L397.7 859.3L400.1 858.8L402.5 858.3L405.0 858.0L407.4 857.8L409.9 857.6L412.4 857.6L414.9 857.6L417.4 857.8L419.9 857.9L422.4 858.2L424.9 858.5L427.4 858.8L430.0 859.1L432.5 859.5L435.0 859.9L437.5 860.3L440.0 860.7L442.5 861.1L445.0 861.5L447.5 861.9L450.0 862.2L452.5 862.6L455.0 862.9L457.5 863.2L460.0 863.5L462.5 863.8L465.0 864.1L467.5 864.4L470.0 864.7L472.5 864.9L475.0 865.2L477.5 865.4L480.0 865.6L482.5 865.8L485.0 866.0L487.5 866.2L490.0 866.3L492.5 866.5L495.0 866.6L497.5 866.7L500.0 866.8L502.5 866.9L504.9 867.0L507.4 867.1L509.9 867.1L512.4 867.1L514.9 867.2L517.4 867.2L519.8 867.1L522.3 867.1L524.8 867.1L527.3 867.0L529.8 866.9L532.2 866.8L534.7 866.7L537.2 866.6L539.7 866.4L542.2 866.2L544.6 866.1L547.1 865.9L549.6 865.6L552.0 865.4L554.5 865.2L557.0 864.9L559.5 864.6L561.9 864.3L564.4 863.9L566.9 863.6L569.3 863.2L571.8 862.8L574.3 862.4L576.7 862.0L579.2 861.6L581.6 861.1L584.1 860.6L586.6 860.2L589.0 859.6L591.5 859.1L593.9 858.6L596.4 858.0L598.8 857.4L601.3 856.9L603.7 856.3L606.1 855.6L608.6 855.0L611.0 854.4L613.4 853.7L615.9 853.1L618.3 852.4L620.7 851.7L623.1 851.0L625.5 850.3L627.9 849.5L630.3 848.8L632.7 848.1L635.1 847.3L637.5 846.5L639.9 845.8L642.3 845.0L644.6 844.2L647.0 843.4L649.4 842.6L651.7 841.8L654.1 840.9L656.4 840.1L658.8 839.3L661.1 838.4L663.5 837.5L665.8 836.7L668.2 835.8L670.5 834.9L672.8 834.0L675.1 833.1L677.5 832.2L679.8 831.3L682.1 830.4L684.4 829.5L686.7 828.6L689.1 827.7L691.4 826.7L693.7 825.8L696.0 824.9L698.3 823.9L700.6 823.0L702.9 822.0L705.2 821.0L707.5 820.1L709.8 819.1L712.1 818.1L714.4 817.2L716.7 816.2L719.0 815.2L721.3 814.2L723.6 813.3L725.9 812.3L728.2 811.3L730.5 810.3L732.8 809.3L735.0 808.3L737.3 807.3L739.6 806.3L741.9 805.3L744.2 804.4L746.5 803.4L748.8 802.4L751.1 801.4L753.4 800.4L755.7 799.4L758.0 798.4L760.3 797.4L762.6 796.4L764.9 795.4L767.2 794.5L769.5 793.5L771.8 792.5L774.1 791.5L776.4 790.5L778.7 789.6L781.0 788.6L783.4 787.7L785.7 786.7L788.0 785.8L790.3 784.8L792.6 783.9L795.0 783.0L797.3 782.0L799.6 781.1L802.0 780.2L804.3 779.3L806.6 778.4L809.0 777.5L811.3 776.7L813.7 775.8L816.0 775.0L818.4 774.1L820.7 773.3L823.1 772.5L825.4 771.6L827.8 770.8L830.2 770.1L832.6 769.3L834.9 768.5L837.3 767.8L839.7 767.0L842.1 766.3L844.5 765.6L846.9 764.9L849.3 764.2L851.7 763.6L854.1 762.9L856.6 762.3L859.0 761.6L861.4 761.0L863.8 760.4L866.3 759.9L868.7 759.3L871.1 758.7L873.6 758.2L876.0 757.7L878.5 757.2L880.9 756.7L883.4 756.2L885.8 755.7L888.3 755.3L890.7 754.8L893.2 754.4L895.7 754.0L898.1 753.6L900.6 753.2L903.1 752.9L905.6 752.5L908.0 752.2L910.5 751.9L913.0 751.6L915.5 751.3L918.0 751.0L920.5 750.8L922.9 750.5L925.4 750.3L927.9 750.1L930.4 749.9L932.9 749.7L935.4 749.5L937.9 749.4L940.4 749.2L942.9 749.1L945.4 749.0L947.9 748.9L950.4 748.9L952.9 748.8L955.4 748.7L957.9 748.7L960.4 748.7L962.9 748.7L965.4 748.7L967.9 748.8L970.3 748.8L972.8 748.9L975.3 748.9L977.8 749.0L980.3 749.2L982.8 749.3L985.3 749.4L987.8 749.6L990.3 749.8L992.8 749.9L995.3 750.1L997.8 750.4L1000.3 750.6L1002.7 750.8L1005.2 751.1L1007.7 751.4L1010.2 751.6L1012.7 751.9L1015.2 752.2L1017.6 752.5L1020.1 752.9L1022.6 753.2L1025.1 753.5L1027.6 753.9L1030.0 754.2L1032.5 754.6L1035.0 755.0L1037.5 755.4L1039.9 755.7L1042.4 756.1L1044.9 756.5L1047.4 756.9L1049.8 757.3L1052.3 757.7L1054.8 758.1L1057.3 758.6L1059.7 759.0L1062.2 759.4L1064.7 759.8L1067.1 760.3L1069.6 760.7L1072.1 761.1L1074.5 761.5L1077.0 762.0L1079.5 762.4L1081.9 762.8L1084.4 763.2L1086.9 763.6L1089.3 764.1L1091.8 764.5L1094.3 764.9L1096.7 765.3L1099.2 765.7L1101.7 766.2L1104.1 766.6L1106.6 767.0L1109.0 767.4L1111.5 767.8L1114.0 768.3L1116.4 768.7L1118.9 769.1L1121.3 769.6L1123.8 770.0L1126.3 770.4L1128.7 770.9L1131.2 771.3L1133.6 771.8L1136.1 772.2L1138.5 772.7L1141.0 773.1L1143.4 773.6L1145.9 774.1L1148.3 774.5L1150.8 775.0L1153.2 775.5L1155.7 776.0L1158.1 776.5L1160.6 777.0L1163.0 777.5L1165.4 778.0L1167.9 778.6L1170.3 779.1L1172.8 779.6L1175.2 780.2L1177.6 780.7L1180.1 781.3L1182.5 781.9L1184.9 782.4L1187.4 783.0L1189.8 783.6L1192.2 784.1L1194.7 784.7L1197.1 785.3L1199.5 785.8L1202.0 786.4L1204.4 786.9L1206.9 787.5L1209.3 788.0L1211.8 788.5L1214.2 789.0L1216.7 789.5L1219.1 790.0L1221.6 790.4L1224.0 790.9L1226.5 791.3L1229.0 791.8L1231.4 792.2L1233.9 792.6L1236.4 793.0L1238.8 793.4L1241.3 793.8L1243.8 794.2L1246.3 794.5L1248.7 794.9L1251.2 795.3L1253.7 795.6L1256.2 795.9L1258.6 796.3L1261.1 796.6L1263.6 796.9L1266.1 797.2L1268.6 797.5L1271.0 797.8L1273.5 798.1L1276.0 798.4L1278.5 798.7L1281.0 798.9L1283.5 799.2L1285.9 799.5L1288.4 799.7L1290.9 800.0L1293.4 800.2L1295.9 800.4L1298.4 800.7L1300.9 800.9L1303.3 801.1L1305.8 801.3L1308.3 801.5L1310.8 801.7L1313.3 801.9L1315.8 802.1L1318.3 802.3L1320.8 802.5L1323.3 802.7L1325.7 802.8L1328.2 803.0L1330.7 803.2L1333.2 803.3L1335.7 803.5L1338.2 803.6L1340.7 803.8L1343.2 803.9L1345.7 804.0L1348.2 804.2L1350.7 804.3L1353.2 804.4L1355.7 804.5L1358.2 804.6L1360.7 804.7L1363.1 804.8L1365.6 804.9L1368.1 805.0L1370.6 805.1L1373.1 805.2L1375.6 805.3L1378.1 805.4L1380.6 805.4L1383.1 805.5L1385.6 805.6L1388.1 805.6L1390.6 805.7L1393.1 805.8L1395.6 805.8L1398.1 805.9L1400.6 805.9L1403.1 806.0L1405.6 806.0L1408.1 806.1L1410.6 806.1L1413.1 806.1L1415.6 806.2L1418.1 806.2L1420.6 806.2L1423.1 806.3L1425.6 806.3L1428.1 806.3L1430.6 806.3L1433.1 806.4L1435.6 806.4L1438.1 806.4L1440.6 806.4L1443.1 806.4L1445.6 806.4L1448.1 806.4L1450.6 806.4L1453.1 806.4L1455.6 806.4L1458.1 806.4L1460.6 806.4L1463.1 806.4L1465.6 806.4L1468.1 806.4L1470.6 806.4L1473.1 806.4L1475.6 806.4L1478.1 806.4L1480.6 806.4L1483.1 806.4L1485.6 806.4L1488.2 806.4L1490.7 806.4L1493.2 806.4L1495.7 806.3L1498.2 806.3L1500.7 806.3L1503.2 806.3L1505.7 806.3L1508.2 806.3L1510.7 806.3L1513.2 806.3L1515.7 806.3L1518.2 806.3L1520.7 806.2L1523.2 806.2L1525.7 806.2L1528.2 806.2L1530.7 806.2L1533.2 806.2L1535.7 806.2L1538.2 806.2L1540.7 806.1L1543.2 806.1L1545.7 806.1L1548.2 806.1L1550.7 806.1L1553.2 806.1L1555.7 806.1L1558.2 806.1L1560.7 806.0L1563.2 806.0L1565.7 806.0L1568.2 806.0L1570.7 806.0L1573.2 806.0L1575.7 806.0L1578.2 806.0L1580.7 805.9L1583.2 805.9L1585.7 805.9L1588.2 805.9L1590.7 805.9L1593.2 805.9L1595.7 805.9L1598.2 805.8L1600.7 805.8L1603.2 805.8L1605.6 805.8L1608.1 805.8L1610.6 805.8L1613.1 805.8L1615.6 805.7L1618.1 805.7L1620.6 805.7L1623.1 805.7L1625.6 805.7L1628.1 805.7L1630.6 805.7L1633.1 805.6L1635.6 805.6L1638.1 805.6L1640.6 805.6L1643.1 805.6L1645.6 805.6L1648.1 805.6L1650.6 805.5L1653.1 805.5L1655.6 805.5L1658.1 805.5L1660.6 805.5L1663.1 805.5L1665.6 805.5L1668.1 805.4L1670.6 805.4L1673.1 805.4L1675.6 805.4L1678.1 805.4L1680.6 805.4L1683.1 805.4L1685.6 805.3L1688.1 805.3L1690.6 805.3L1693.1 805.3L1695.6 805.3L1698.1 805.3L1700.6 805.3L1703.1 805.2L1705.6 805.2L1708.1 805.2L1710.6 805.2L1713.1 805.2L1715.6 805.2L1718.1 805.2L1720.6 805.1L1723.1 805.1L1725.6 805.1L1728.1 805.1L1730.6 805.1L1733.1 805.1L1735.6 805.1L1738.1 805.0L1740.5 805.0L1743.0 805.0L1745.5 805.0L1748.0 805.0L1750.5 805.0L1753.0 805.0L1755.5 805.0L1758.0 804.9L1760.5 804.9L1763.0 804.9L1765.5 804.9L1768.0 804.9L1770.5 804.9L1773.0 804.9L1775.5 804.9L1778.0 804.8L1780.5 804.8L1783.0 804.8L1785.5 804.8L1788.0 804.8L1790.5 804.8L1793.0 804.8L1795.5 804.8L1798.0 804.7L1800.5 804.7L1803.0 804.7L1805.5 804.7L1808.0 804.7L1810.5 804.7L1813.0 804.7L1815.5 804.7L1818.0 804.6L1820.5 804.6L1823.0 804.6L1825.5 804.6L1828.0 804.6L1830.5 804.6L1833.0 804.6L1835.5 804.6L1838.0 804.6L1840.5 804.6L1843.0 804.5L1845.5 804.5L1848.0 804.5L1850.5 804.5L1853.0 804.5L1855.5 804.5L1858.0 804.5L1860.5 804.5L1863.0 804.5L1865.5 804.5L1868.0 804.5L1870.5 804.4L1873.0 804.4L1875.5 804.4L1878.0 804.4L1880.5 804.4L1883.0 804.4L1885.5 804.4L1888.0 804.4L1890.5 804.4L1893.0 804.4L1895.5 804.4L1898.0 804.4L1900.5 804.4L1903.0 804.4L1905.5 804.3L1908.0 804.3L1910.5 804.3L1913.0 804.3L1915.5 804.3L1918.0 804.3L1920.5 804.3L1923.0 804.3L1925.5 804.3L1928.0 804.3L1930.5 804.3L1933.0 804.3L1935.5 804.3" stroke="#ED7D31" fill="none" stroke-width="8.00" stroke-linejoin="round" stroke-linecap="round" stroke-dasharray="19.6 28.4" stroke-dashoffset="1.1"/>
<path d="M333.2 949.9L335.6 948.7L337.9 947.8L340.3 947.0L342.7 946.4L345.1 945.9L347.5 945.6L350.0 945.4L352.4 945.2L354.9 945.2L357.3 945.2L359.8 945.3L362.3 945.5L364.8 945.7L367.3 945.9L369.8 946.1L372.3 946.3L374.8 946.6L377.3 946.8L379.8 947.0L382.3 947.1L384.8 947.3L387.3 947.5L389.8 947.6L392.3 947.7L394.8 947.9L397.3 948.0L399.8 948.0L402.3 948.1L404.8 948.1L407.2 948.2L409.7 948.2L412.2 948.2L414.7 948.1L417.2 948.1L419.7 948.0L422.2 947.9L424.7 947.8L427.2 947.6L429.7 947.5L432.2 947.3L434.6 947.1L437.1 946.8L439.6 946.6L442.1 946.3L444.6 946.0L447.1 945.7L449.6 945.4L452.0 945.1L454.5 944.7L457.0 944.3L459.5 943.9L461.9 943.5L464.4 943.1L466.9 942.6L469.3 942.2L471.8 941.7L474.2 941.2L476.7 940.7L479.1 940.2L481.6 939.6L484.0 939.1L486.5 938.5L488.9 937.9L491.3 937.3L493.8 936.7L496.2 936.1L498.6 935.4L501.0 934.8L503.5 934.1L505.9 933.5L508.3 932.8L510.7 932.1L513.1 931.4L515.5 930.7L517.8 929.9L520.2 929.2L522.6 928.4L525.0 927.7L527.4 926.9L529.7 926.1L532.1 925.3L534.5 924.5L536.8 923.7L539.2 922.9L541.5 922.1L543.9 921.3L546.2 920.4L548.6 919.5L550.9 918.7L553.2 917.8L555.6 916.9L557.9 916.0L560.2 915.1L562.5 914.2L564.9 913.3L567.2 912.4L569.5 911.5L571.8 910.5L574.1 909.6L576.4 908.7L578.7 907.7L581.0 906.7L583.3 905.8L585.6 904.8L587.9 903.8L590.2 902.8L592.5 901.9L594.8 900.9L597.1 899.9L599.4 898.9L601.7 897.8L603.9 896.8L606.2 895.8L608.5 894.8L610.8 893.8L613.1 892.7L615.3 891.7L617.6 890.6L619.9 889.6L622.1 888.6L624.4 887.5L626.7 886.5L628.9 885.4L631.2 884.3L633.5 883.3L635.7 882.2L638.0 881.1L640.3 880.1L642.5 879.0L644.8 877.9L647.0 876.9L649.3 875.8L651.6 874.7L653.8 873.6L656.1 872.5L658.3 871.4L660.6 870.3L662.8 869.2L665.1 868.2L667.3 867.1L669.6 866.0L671.8 864.9L674.0 863.7L676.3 862.6L678.5 861.5L680.8 860.4L683.0 859.3L685.3 858.2L687.5 857.1L689.7 856.0L692.0 854.9L694.2 853.7L696.4 852.6L698.7 851.5L700.9 850.4L703.1 849.2L705.4 848.1L707.6 847.0L709.8 845.9L712.0 844.7L714.3 843.6L716.5 842.5L718.7 841.3L720.9 840.2L723.1 839.1L725.4 837.9L727.6 836.8L729.8 835.7L732.0 834.5L734.3 833.4L736.5 832.3L738.7 831.2L740.9 830.0L743.2 828.9L745.4 827.8L747.6 826.7L749.9 825.6L752.1 824.5L754.3 823.4L756.6 822.3L758.8 821.2L761.1 820.2L763.3 819.1L765.6 818.0L767.8 817.0L770.1 815.9L772.4 814.9L774.6 813.9L776.9 812.8L779.2 811.8L781.5 810.8L783.8 809.8L786.1 808.8L788.4 807.9L790.7 806.9L793.0 805.9L795.3 805.0L797.6 804.1L800.0 803.2L802.3 802.2L804.7 801.3L807.0 800.5L809.3 799.6L811.7 798.7L814.1 797.9L816.4 797.0L818.8 796.2L821.2 795.4L823.5 794.6L825.9 793.8L828.3 793.0L830.7 792.2L833.1 791.5L835.5 790.7L837.9 790.0L840.3 789.3L842.7 788.6L845.1 787.9L847.5 787.2L849.9 786.5L852.3 785.8L854.7 785.2L857.1 784.6L859.6 784.0L862.0 783.4L864.4 782.8L866.9 782.2L869.3 781.6L871.7 781.1L874.2 780.5L876.6 780.0L879.1 779.5L881.5 779.0L883.9 778.5L886.4 778.0L888.9 777.6L891.3 777.1L893.8 776.7L896.2 776.3L898.7 775.8L901.1 775.4L903.6 775.1L906.1 774.7L908.5 774.3L911.0 774.0L913.5 773.6L915.9 773.3L918.4 773.0L920.9 772.7L923.4 772.4L925.9 772.1L928.3 771.8L930.8 771.6L933.3 771.3L935.8 771.1L938.3 770.9L940.7 770.6L943.2 770.4L945.7 770.2L948.2 770.1L950.7 769.9L953.2 769.7L955.7 769.6L958.2 769.4L960.7 769.3L963.2 769.2L965.7 769.1L968.1 769.0L970.6 768.9L973.1 768.8L975.6 768.7L978.1 768.7L980.6 768.6L983.1 768.6L985.6 768.5L988.1 768.5L990.6 768.5L993.1 768.5L995.6 768.5L998.1 768.5L1000.6 768.6L1003.1 768.6L1005.6 768.6L1008.1 768.7L1010.6 768.7L1013.1 768.8L1015.6 768.9L1018.1 769.0L1020.6 769.1L1023.1 769.2L1025.6 769.3L1028.1 769.4L1030.6 769.5L1033.1 769.6L1035.6 769.8L1038.1 769.9L1040.6 770.1L1043.1 770.3L1045.6 770.4L1048.1 770.6L1050.5 770.8L1053.0 771.0L1055.5 771.2L1058.0 771.4L1060.5 771.6L1063.0 771.8L1065.5 772.1L1068.0 772.3L1070.5 772.5L1072.9 772.8L1075.4 773.0L1077.9 773.3L1080.4 773.5L1082.9 773.8L1085.4 774.1L1087.9 774.4L1090.3 774.6L1092.8 774.9L1095.3 775.2L1097.8 775.5L1100.3 775.8L1102.7 776.1L1105.2 776.4L1107.7 776.8L1110.2 777.1L1112.7 777.4L1115.1 777.7L1117.6 778.1L1120.1 778.4L1122.6 778.7L1125.1 779.1L1127.5 779.4L1130.0 779.7L1132.5 780.1L1135.0 780.4L1137.4 780.8L1139.9 781.2L1142.4 781.5L1144.9 781.9L1147.4 782.2L1149.8 782.6L1152.3 783.0L1154.8 783.3L1157.3 783.7L1159.7 784.1L1162.2 784.4L1164.7 784.8L1167.2 785.2L1169.6 785.5L1172.1 785.9L1174.6 786.3L1177.1 786.7L1179.5 787.0L1182.0 787.4L1184.5 787.8L1187.0 788.1L1189.4 788.5L1191.9 788.9L1194.4 789.3L1196.9 789.6L1199.3 790.0L1201.8 790.4L1204.3 790.7L1206.8 791.1L1209.2 791.5L1211.7 791.8L1214.2 792.2L1216.7 792.5L1219.1 792.9L1221.6 793.2L1224.1 793.6L1226.6 793.9L1229.0 794.3L1231.5 794.6L1234.0 795.0L1236.5 795.3L1238.9 795.6L1241.4 796.0L1243.9 796.3L1246.4 796.6L1248.9 796.9L1251.3 797.3L1253.8 797.6L1256.3 797.9L1258.8 798.2L1261.3 798.5L1263.7 798.8L1266.2 799.1L1268.7 799.3L1271.2 799.6L1273.7 799.9L1276.1 800.2L1278.6 800.4L1281.1 800.7L1283.6 800.9L1286.1 801.2L1288.6 801.4L1291.0 801.7L1293.5 801.9L1296.0 802.1L1298.5 802.3L1301.0 802.6L1303.5 802.8L1306.0 803.0L1308.4 803.2L1310.9 803.4L1313.4 803.6L1315.9 803.7L1318.4 803.9L1320.9 804.1L1323.4 804.3L1325.9 804.4L1328.3 804.6L1330.8 804.7L1333.3 804.9L1335.8 805.0L1338.3 805.2L1340.8 805.3L1343.3 805.4L1345.8 805.6L1348.3 805.7L1350.8 805.8L1353.3 805.9L1355.8 806.0L1358.2 806.2L1360.7 806.3L1363.2 806.4L1365.7 806.5L1368.2 806.5L1370.7 806.6L1373.2 806.7L1375.7 806.8L1378.2 806.9L1380.7 806.9L1383.2 807.0L1385.7 807.1L1388.2 807.1L1390.7 807.2L1393.2 807.3L1395.7 807.3L1398.2 807.4L1400.7 807.4L1403.2 807.4L1405.7 807.5L1408.2 807.5L1410.7 807.5L1413.2 807.6L1415.7 807.6L1418.2 807.6L1420.7 807.6L1423.2 807.7L1425.7 807.7L1428.2 807.7L1430.7 807.7L1433.2 807.7L1435.7 807.7L1438.2 807.7L1440.7 807.7L1443.2 807.7L1445.7 807.7L1448.2 807.7L1450.7 807.7L1453.2 807.7L1455.7 807.7L1458.2 807.6L1460.7 807.6L1463.2 807.6L1465.7 807.6L1468.2 807.5L1470.7 807.5L1473.2 807.5L1475.7 807.5L1478.2 807.4L1480.7 807.4L1483.2 807.4L1485.7 807.3L1488.2 807.3L1490.7 807.2L1493.2 807.2L1495.7 807.1L1498.2 807.1L1500.7 807.1L1503.2 807.0L1505.7 807.0L1508.2 806.9L1510.7 806.9L1513.2 806.8L1515.7 806.8L1518.2 806.7L1520.7 806.6L1523.2 806.6L1525.7 806.5L1528.2 806.5L1530.7 806.4L1533.2 806.4L1535.7 806.3L1538.2 806.2L1540.7 806.2L1543.2 806.1L1545.7 806.0L1548.2 806.0L1550.7 805.9L1553.2 805.9L1555.7 805.8L1558.2 805.7L1560.7 805.7L1563.2 805.6L1565.7 805.5L1568.2 805.5L1570.7 805.4L1573.2 805.3L1575.7 805.3L1578.2 805.2L1580.7 805.2L1583.2 805.1L1585.7 805.0L1588.2 805.0L1590.7 804.9L1593.2 804.8L1595.7 804.8L1598.2 804.7L1600.7 804.7L1603.2 804.6L1605.7 804.5L1608.2 804.5L1610.7 804.4L1613.2 804.4L1615.7 804.3L1618.2 804.3L1620.7 804.2L1623.2 804.1L1625.7 804.1L1628.2 804.0L1630.7 804.0L1633.2 803.9L1635.7 803.9L1638.2 803.8L1640.7 803.8L1643.2 803.7L1645.7 803.7L1648.2 803.6L1650.7 803.6L1653.2 803.5L1655.7 803.5L1658.2 803.4L1660.7 803.4L1663.2 803.3L1665.7 803.3L1668.2 803.2L1670.7 803.2L1673.2 803.1L1675.7 803.1L1678.2 803.0L1680.7 803.0L1683.2 802.9L1685.7 802.9L1688.1 802.9L1690.6 802.8L1693.1 802.8L1695.6 802.7L1698.1 802.7L1700.6 802.6L1703.1 802.6L1705.6 802.6L1708.1 802.5L1710.6 802.5L1713.1 802.4L1715.6 802.4L1718.1 802.4L1720.6 802.3L1723.1 802.3L1725.6 802.3L1728.1 802.2L1730.6 802.2L1733.1 802.1L1735.6 802.1L1738.1 802.1L1740.6 802.0L1743.1 802.0L1745.6 802.0L1748.1 801.9L1750.6 801.9L1753.1 801.9L1755.6 801.9L1758.0 801.8L1760.5 801.8L1763.0 801.8L1765.5 801.7L1768.0 801.7L1770.5 801.7L1773.0 801.6L1775.5 801.6L1778.0 801.6L1780.5 801.6L1783.0 801.5L1785.5 801.5L1788.0 801.5L1790.5 801.5L1793.0 801.4L1795.5 801.4L1798.0 801.4L1800.5 801.4L1803.0 801.4L1805.5 801.3L1808.0 801.3L1810.5 801.3L1813.0 801.3L1815.5 801.2L1818.0 801.2L1820.5 801.2L1823.0 801.2L1825.5 801.2L1828.0 801.2L1830.5 801.1L1833.0 801.1L1835.5 801.1L1838.0 801.1L1840.5 801.1L1843.0 801.1L1845.5 801.1L1848.0 801.0L1850.5 801.0L1853.0 801.0L1855.5 801.0L1858.0 801.0L1860.5 801.0L1863.0 801.0L1865.5 801.0L1868.0 801.0L1870.5 800.9L1873.0 800.9L1875.5 800.9L1878.0 800.9L1880.5 800.9L1883.0 800.9L1885.5 800.9L1888.0 800.9L1890.5 800.9L1893.0 800.9L1895.5 800.9L1898.0 800.9L1900.5 800.9L1903.0 800.9L1905.5 800.9L1908.0 800.9L1910.5 800.9L1913.0 800.9L1915.5 800.9L1918.0 800.9L1920.5 800.9L1923.0 800.9L1925.5 800.9L1928.0 800.9L1930.5 800.9L1933.0 800.9L1935.5 800.9" stroke="#639A3E" fill="none" stroke-width="8.00" stroke-linejoin="round" stroke-linecap="round"/>
<path d="M333.2 985.8L335.7 985.9L338.2 986.0L340.7 986.1L343.2 986.2L345.7 986.2L348.2 986.3L350.7 986.3L353.2 986.3L355.6 986.3L358.1 986.3L360.6 986.3L363.1 986.3L365.6 986.2L368.1 986.1L370.6 986.0L373.1 985.9L375.6 985.8L378.1 985.7L380.6 985.6L383.1 985.4L385.6 985.2L388.1 985.0L390.6 984.8L393.1 984.6L395.5 984.4L398.0 984.1L400.5 983.9L403.0 983.6L405.5 983.3L408.0 983.0L410.4 982.7L412.9 982.4L415.4 982.0L417.9 981.7L420.4 981.3L422.8 980.9L425.3 980.5L427.8 980.1L430.2 979.7L432.7 979.2L435.2 978.8L437.6 978.3L440.1 977.8L442.5 977.3L445.0 976.8L447.4 976.3L449.9 975.8L452.3 975.2L454.7 974.7L457.2 974.1L459.6 973.5L462.0 972.9L464.5 972.3L466.9 971.7L469.3 971.1L471.7 970.4L474.1 969.8L476.5 969.1L478.9 968.4L481.3 967.7L483.7 967.0L486.1 966.3L488.5 965.6L490.9 964.8L493.3 964.1L495.7 963.3L498.0 962.5L500.4 961.7L502.7 960.9L505.1 960.1L507.5 959.3L509.8 958.4L512.1 957.6L514.5 956.7L516.8 955.8L519.1 955.0L521.5 954.1L523.8 953.2L526.1 952.2L528.4 951.3L530.7 950.4L533.0 949.4L535.3 948.5L537.6 947.5L539.9 946.5L542.2 945.6L544.4 944.6L546.7 943.6L549.0 942.5L551.2 941.5L553.5 940.5L555.8 939.5L558.0 938.4L560.3 937.4L562.5 936.3L564.8 935.2L567.0 934.2L569.3 933.1L571.5 932.0L573.7 930.9L576.0 929.8L578.2 928.7L580.4 927.6L582.7 926.4L584.9 925.3L587.1 924.2L589.3 923.1L591.5 921.9L593.8 920.8L596.0 919.6L598.2 918.4L600.4 917.3L602.6 916.1L604.8 914.9L607.0 913.8L609.2 912.6L611.4 911.4L613.6 910.2L615.8 909.0L618.0 907.8L620.2 906.6L622.4 905.4L624.6 904.2L626.8 903.0L628.9 901.8L631.1 900.6L633.3 899.4L635.5 898.2L637.7 897.0L639.9 895.7L642.1 894.5L644.3 893.3L646.4 892.1L648.6 890.9L650.8 889.6L653.0 888.4L655.2 887.2L657.4 886.0L659.5 884.7L661.7 883.5L663.9 882.3L666.1 881.1L668.3 879.8L670.5 878.6L672.7 877.4L674.9 876.2L677.0 875.0L679.2 873.7L681.4 872.5L683.6 871.3L685.8 870.1L688.0 868.9L690.2 867.7L692.4 866.5L694.6 865.3L696.8 864.1L699.0 862.9L701.2 861.7L703.4 860.5L705.6 859.3L707.8 858.2L710.0 857.0L712.2 855.8L714.5 854.7L716.7 853.5L718.9 852.3L721.1 851.2L723.3 850.0L725.6 848.9L727.8 847.8L730.0 846.6L732.2 845.5L734.5 844.4L736.7 843.3L739.0 842.2L741.2 841.1L743.5 840.0L745.7 838.9L748.0 837.8L750.2 836.7L752.5 835.7L754.8 834.6L757.0 833.6L759.3 832.5L761.6 831.5L763.8 830.5L766.1 829.4L768.4 828.4L770.7 827.4L773.0 826.4L775.3 825.4L777.6 824.5L779.9 823.5L782.2 822.5L784.5 821.6L786.8 820.6L789.1 819.7L791.5 818.8L793.8 817.8L796.1 816.9L798.4 816.0L800.8 815.1L803.1 814.2L805.4 813.4L807.8 812.5L810.1 811.6L812.5 810.8L814.8 809.9L817.2 809.1L819.5 808.3L821.9 807.5L824.2 806.7L826.6 805.9L829.0 805.1L831.3 804.3L833.7 803.5L836.1 802.8L838.5 802.0L840.8 801.3L843.2 800.5L845.6 799.8L848.0 799.1L850.4 798.4L852.8 797.7L855.2 797.0L857.6 796.3L860.0 795.7L862.4 795.0L864.8 794.4L867.2 793.7L869.6 793.1L872.0 792.5L874.4 791.9L876.8 791.3L879.2 790.7L881.7 790.1L884.1 789.5L886.5 789.0L888.9 788.4L891.4 787.9L893.8 787.4L896.2 786.9L898.7 786.4L901.1 785.9L903.5 785.4L906.0 784.9L908.4 784.4L910.9 784.0L913.3 783.6L915.8 783.1L918.2 782.7L920.7 782.3L923.1 781.9L925.6 781.5L928.0 781.1L930.5 780.8L933.0 780.4L935.4 780.1L937.9 779.7L940.3 779.4L942.8 779.1L945.3 778.8L947.8 778.5L950.2 778.3L952.7 778.0L955.2 777.7L957.7 777.5L960.1 777.3L962.6 777.1L965.1 776.8L967.6 776.7L970.1 776.5L972.6 776.3L975.0 776.1L977.5 776.0L980.0 775.9L982.5 775.7L985.0 775.6L987.5 775.5L990.0 775.5L992.5 775.4L995.0 775.3L997.5 775.3L1000.0 775.2L1002.5 775.2L1005.0 775.2L1007.5 775.2L1010.0 775.2L1012.5 775.2L1015.0 775.2L1017.5 775.3L1020.0 775.3L1022.5 775.4L1025.0 775.4L1027.5 775.5L1030.0 775.6L1032.5 775.7L1035.0 775.7L1037.5 775.8L1040.1 776.0L1042.6 776.1L1045.1 776.2L1047.6 776.3L1050.1 776.4L1052.6 776.6L1055.1 776.7L1057.6 776.9L1060.1 777.0L1062.6 777.2L1065.1 777.4L1067.6 777.5L1070.1 777.7L1072.6 777.9L1075.1 778.0L1077.6 778.2L1080.1 778.4L1082.6 778.6L1085.1 778.8L1087.6 779.0L1090.1 779.2L1092.6 779.4L1095.1 779.5L1097.6 779.8L1100.1 780.0L1102.6 780.2L1105.1 780.4L1107.6 780.6L1110.0 780.8L1112.5 781.0L1115.0 781.2L1117.5 781.4L1120.0 781.7L1122.5 781.9L1125.0 782.1L1127.5 782.3L1130.0 782.6L1132.4 782.8L1134.9 783.0L1137.4 783.3L1139.9 783.5L1142.4 783.7L1144.9 784.0L1147.3 784.2L1149.8 784.4L1152.3 784.7L1154.8 784.9L1157.3 785.2L1159.8 785.4L1162.3 785.6L1164.7 785.9L1167.2 786.1L1169.7 786.4L1172.2 786.6L1174.7 786.9L1177.1 787.1L1179.6 787.4L1182.1 787.6L1184.6 787.9L1187.1 788.1L1189.6 788.4L1192.0 788.6L1194.5 788.9L1197.0 789.1L1199.5 789.4L1202.0 789.6L1204.5 789.8L1206.9 790.1L1209.4 790.3L1211.9 790.6L1214.4 790.8L1216.9 791.1L1219.4 791.3L1221.8 791.5L1224.3 791.8L1226.8 792.0L1229.3 792.3L1231.8 792.5L1234.3 792.7L1236.7 792.9L1239.2 793.2L1241.7 793.4L1244.2 793.6L1246.7 793.9L1249.2 794.1L1251.6 794.3L1254.1 794.5L1256.6 794.7L1259.1 794.9L1261.6 795.1L1264.1 795.3L1266.6 795.6L1269.0 795.8L1271.5 795.9L1274.0 796.1L1276.5 796.3L1279.0 796.5L1281.5 796.7L1284.0 796.9L1286.5 797.1L1288.9 797.2L1291.4 797.4L1293.9 797.6L1296.4 797.7L1298.9 797.9L1301.4 798.1L1303.9 798.2L1306.4 798.4L1308.9 798.5L1311.4 798.7L1313.9 798.8L1316.3 798.9L1318.8 799.1L1321.3 799.2L1323.8 799.3L1326.3 799.4L1328.8 799.6L1331.3 799.7L1333.8 799.8L1336.3 799.9L1338.8 800.0L1341.3 800.1L1343.8 800.2L1346.3 800.3L1348.8 800.4L1351.3 800.5L1353.8 800.6L1356.3 800.6L1358.8 800.7L1361.2 800.8L1363.7 800.9L1366.2 801.0L1368.7 801.0L1371.2 801.1L1373.7 801.2L1376.2 801.2L1378.7 801.3L1381.2 801.3L1383.7 801.4L1386.2 801.4L1388.7 801.5L1391.2 801.5L1393.7 801.6L1396.2 801.6L1398.7 801.6L1401.2 801.7L1403.7 801.7L1406.2 801.7L1408.7 801.8L1411.2 801.8L1413.7 801.8L1416.2 801.8L1418.7 801.8L1421.2 801.9L1423.7 801.9L1426.2 801.9L1428.7 801.9L1431.2 801.9L1433.7 801.9L1436.2 801.9L1438.7 801.9L1441.2 801.9L1443.7 801.9L1446.2 801.9L1448.7 801.9L1451.2 801.9L1453.6 801.9L1456.1 801.8L1458.6 801.8L1461.1 801.8L1463.6 801.8L1466.1 801.8L1468.6 801.7L1471.1 801.7L1473.6 801.7L1476.1 801.7L1478.6 801.6L1481.1 801.6L1483.6 801.6L1486.1 801.5L1488.6 801.5L1491.1 801.4L1493.6 801.4L1496.1 801.4L1498.6 801.3L1501.1 801.3L1503.6 801.2L1506.1 801.2L1508.6 801.1L1511.1 801.1L1513.6 801.0L1516.1 801.0L1518.6 800.9L1521.1 800.9L1523.6 800.8L1526.1 800.8L1528.5 800.7L1531.0 800.6L1533.5 800.6L1536.0 800.5L1538.5 800.4L1541.0 800.4L1543.5 800.3L1546.0 800.2L1548.5 800.2L1551.0 800.1L1553.5 800.0L1556.0 800.0L1558.5 799.9L1561.0 799.8L1563.5 799.8L1566.0 799.7L1568.5 799.6L1571.0 799.5L1573.5 799.5L1576.0 799.4L1578.5 799.3L1581.0 799.2L1583.5 799.1L1586.0 799.1L1588.5 799.0L1591.0 798.9L1593.4 798.8L1595.9 798.7L1598.4 798.7L1600.9 798.6L1603.4 798.5L1605.9 798.4L1608.4 798.3L1610.9 798.2L1613.4 798.2L1615.9 798.1L1618.4 798.0L1620.9 797.9L1623.4 797.8L1625.9 797.7L1628.4 797.7L1630.9 797.6L1633.4 797.5L1635.9 797.4L1638.4 797.3L1640.9 797.2L1643.4 797.1L1645.9 797.1L1648.4 797.0L1650.9 796.9L1653.4 796.8L1655.8 796.7L1658.3 796.6L1660.8 796.5L1663.3 796.5L1665.8 796.4L1668.3 796.3L1670.8 796.2L1673.3 796.1L1675.8 796.0L1678.3 796.0L1680.8 795.9L1683.3 795.8L1685.8 795.7L1688.3 795.6L1690.8 795.5L1693.3 795.5L1695.8 795.4L1698.3 795.3L1700.8 795.2L1703.3 795.2L1705.8 795.1L1708.3 795.0L1710.8 794.9L1713.3 794.9L1715.8 794.8L1718.2 794.7L1720.7 794.6L1723.2 794.6L1725.7 794.5L1728.2 794.4L1730.7 794.4L1733.2 794.3L1735.7 794.2L1738.2 794.2L1740.7 794.1L1743.2 794.0L1745.7 794.0L1748.2 793.9L1750.7 793.8L1753.2 793.8L1755.7 793.7L1758.2 793.7L1760.7 793.6L1763.2 793.6L1765.7 793.5L1768.2 793.5L1770.7 793.4L1773.2 793.4L1775.7 793.3L1778.2 793.3L1780.7 793.2L1783.2 793.2L1785.7 793.1L1788.1 793.1L1790.6 793.1L1793.1 793.0L1795.6 793.0L1798.1 792.9L1800.6 792.9L1803.1 792.9L1805.6 792.9L1808.1 792.8L1810.6 792.8L1813.1 792.8L1815.6 792.8L1818.1 792.7L1820.6 792.7L1823.1 792.7L1825.6 792.7L1828.1 792.7L1830.6 792.7L1833.1 792.7L1835.6 792.7L1838.1 792.7L1840.6 792.6L1843.1 792.6L1845.6 792.7L1848.1 792.7L1850.6 792.7L1853.1 792.7L1855.6 792.7L1858.1 792.7L1860.6 792.7L1863.1 792.7L1865.6 792.7L1868.1 792.8L1870.6 792.8L1873.0 792.8L1875.5 792.9L1878.0 792.9L1880.5 792.9L1883.0 793.0L1885.5 793.0L1888.0 793.0L1890.5 793.1L1893.0 793.1L1895.5 793.2L1898.0 793.2L1900.5 793.3L1903.0 793.3L1905.5 793.4L1908.0 793.5L1910.5 793.5L1913.0 793.6L1915.5 793.7L1918.0 793.8L1920.5 793.8L1923.0 793.9L1925.5 794.0L1928.0 794.1L1930.5 794.2L1933.0 794.3L1935.5 794.4" stroke="#000" fill="none" stroke-width="8.00" stroke-linejoin="round" stroke-linecap="round" stroke-dasharray="0 13.72" stroke-dashoffset="0.15"/>
</g>
<line x1="577.9" y1="104.9" x2="664.2" y2="104.9" stroke="#000" stroke-width="8.0" stroke-linecap="round" />
<line x1="1310.8" y1="104.9" x2="1396.9" y2="104.9" stroke="#4472C4" stroke-width="8.0" stroke-linecap="round" />
<rect x="608.5" y="168.5" width="24" height="23" fill="none" stroke="#000" stroke-width="7.6"/>
<line x1="1310.8" y1="180.0" x2="1396.9" y2="180.0" stroke="#ED7D31" stroke-width="8.0" stroke-linecap="round" />
<line x1="577.9" y1="254.9" x2="664.2" y2="254.9" stroke="#4472C4" stroke-width="8.0" stroke-linecap="round" stroke-dasharray="19.6 28.4"/>
<line x1="1310.8" y1="254.9" x2="1396.9" y2="254.9" stroke="#ED7D31" stroke-width="8.0" stroke-linecap="round" stroke-dasharray="19.6 28.4"/>
<line x1="577.9" y1="330.0" x2="664.2" y2="330.0" stroke="#639A3E" stroke-width="8.0" stroke-linecap="round" />
<line x1="1311.0" y1="330.0" x2="1393.5" y2="330.0" stroke="#000" stroke-width="8.0" stroke-linecap="round" stroke-dasharray="0 13.72"/>
<g font-size="55">
<text x="673.6" y="122.4">G=0</text>
<text x="1406.6" y="122.4">G=0.1</text>
<text x="673.6" y="197.5">G=0.1 Cong &amp; Liu 2020</text>
<text x="1406.6" y="197.5">G=0.47</text>
<text x="673.6" y="272.4">G=1.05</text>
<text x="1406.6" y="272.4">G=3.118</text>
<text x="673.6" y="347.5">G=9.309</text>
<text x="1406.6" y="347.5">G&gt;&gt;1</text>
</g>
</svg></body></html>
